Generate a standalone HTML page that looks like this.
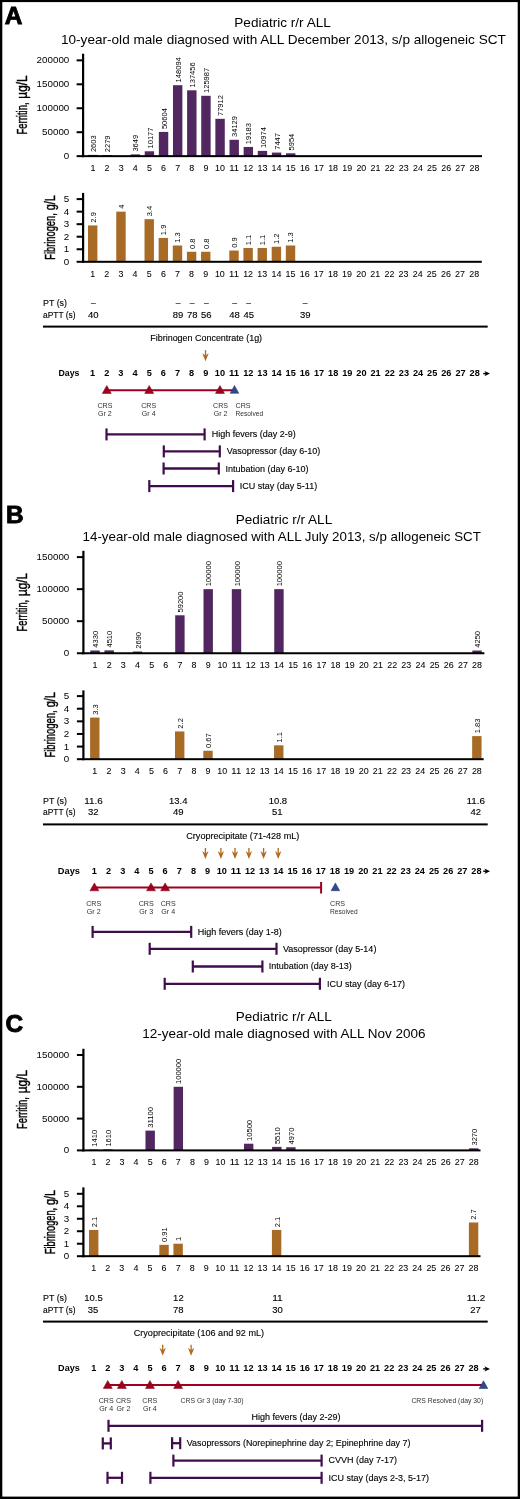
<!DOCTYPE html>
<html><head><meta charset="utf-8"><title>Figure</title>
<style>
html,body{margin:0;padding:0;background:#fff;}
body{width:520px;height:1499px;overflow:hidden;}
svg{display:block;will-change:transform;}
text{font-family:"Liberation Sans", sans-serif;}
</style></head>
<body>
<svg width="520" height="1499" viewBox="0 0 520 1499">
<rect x="0" y="0" width="520" height="1499" fill="#fff"/>
<rect x="0.00" y="0.00" width="520.00" height="2.10" fill="#000"/>
<rect x="0.00" y="0.00" width="2.30" height="1499.00" fill="#000"/>
<rect x="517.70" y="0.00" width="2.30" height="1499.00" fill="#000"/>
<rect x="0.00" y="1496.60" width="520.00" height="2.40" fill="#000"/>
<text x="4.80" y="24.40" font-size="24.4" font-weight="bold" fill="#000" stroke="#000" stroke-width="0.9">A</text>
<text x="234.30" y="26.90" font-size="12.1" fill="#000" textLength="96.50" lengthAdjust="spacingAndGlyphs">Pediatric r/r ALL</text>
<text x="61.00" y="43.80" font-size="12.1" fill="#000" textLength="444.80" lengthAdjust="spacingAndGlyphs">10-year-old male diagnosed with ALL December 2013, s/p allogeneic SCT</text>
<rect x="76.60" y="155.15" width="6.50" height="2.00" fill="#000"/>
<text x="69.30" y="159.23" font-size="8.6" text-anchor="end" fill="#000" textLength="5.45" lengthAdjust="spacingAndGlyphs">0</text>
<rect x="76.60" y="131.20" width="6.50" height="2.00" fill="#000"/>
<text x="69.30" y="135.28" font-size="8.6" text-anchor="end" fill="#000" textLength="27.25" lengthAdjust="spacingAndGlyphs">50000</text>
<rect x="76.60" y="107.25" width="6.50" height="2.00" fill="#000"/>
<text x="69.30" y="111.33" font-size="8.6" text-anchor="end" fill="#000" textLength="32.70" lengthAdjust="spacingAndGlyphs">100000</text>
<rect x="76.60" y="83.30" width="6.50" height="2.00" fill="#000"/>
<text x="69.30" y="87.38" font-size="8.6" text-anchor="end" fill="#000" textLength="32.70" lengthAdjust="spacingAndGlyphs">150000</text>
<rect x="76.60" y="59.35" width="6.50" height="2.00" fill="#000"/>
<text x="69.30" y="63.43" font-size="8.6" text-anchor="end" fill="#000" textLength="32.70" lengthAdjust="spacingAndGlyphs">200000</text>
<rect x="88.20" y="154.90" width="9.40" height="1.25" fill="#522660"/>
<text transform="translate(95.98,152.10) rotate(-90)" font-size="7.2" fill="#000" textLength="16.80" lengthAdjust="spacingAndGlyphs">2603</text>
<rect x="102.33" y="155.06" width="9.40" height="1.09" fill="#522660"/>
<text transform="translate(110.11,152.26) rotate(-90)" font-size="7.2" fill="#000" textLength="16.80" lengthAdjust="spacingAndGlyphs">2279</text>
<rect x="130.59" y="154.40" width="9.40" height="1.75" fill="#522660"/>
<text transform="translate(138.37,151.60) rotate(-90)" font-size="7.2" fill="#000" textLength="16.80" lengthAdjust="spacingAndGlyphs">3649</text>
<rect x="144.72" y="151.28" width="9.40" height="4.87" fill="#522660"/>
<text transform="translate(152.50,148.48) rotate(-90)" font-size="7.2" fill="#000" textLength="21.00" lengthAdjust="spacingAndGlyphs">10177</text>
<rect x="158.85" y="131.91" width="9.40" height="24.24" fill="#522660"/>
<text transform="translate(166.63,129.11) rotate(-90)" font-size="7.2" fill="#000" textLength="21.00" lengthAdjust="spacingAndGlyphs">50604</text>
<rect x="172.98" y="85.21" width="9.40" height="70.94" fill="#522660"/>
<text transform="translate(180.76,82.41) rotate(-90)" font-size="7.2" fill="#000" textLength="25.20" lengthAdjust="spacingAndGlyphs">148094</text>
<rect x="187.11" y="90.31" width="9.40" height="65.84" fill="#522660"/>
<text transform="translate(194.89,87.51) rotate(-90)" font-size="7.2" fill="#000" textLength="25.20" lengthAdjust="spacingAndGlyphs">137456</text>
<rect x="201.24" y="95.80" width="9.40" height="60.35" fill="#522660"/>
<text transform="translate(209.02,93.00) rotate(-90)" font-size="7.2" fill="#000" textLength="25.20" lengthAdjust="spacingAndGlyphs">125987</text>
<rect x="215.37" y="118.83" width="9.40" height="37.32" fill="#522660"/>
<text transform="translate(223.15,116.03) rotate(-90)" font-size="7.2" fill="#000" textLength="21.00" lengthAdjust="spacingAndGlyphs">77912</text>
<rect x="229.50" y="139.80" width="9.40" height="16.35" fill="#522660"/>
<text transform="translate(237.28,137.00) rotate(-90)" font-size="7.2" fill="#000" textLength="21.00" lengthAdjust="spacingAndGlyphs">34129</text>
<rect x="243.63" y="146.96" width="9.40" height="9.19" fill="#522660"/>
<text transform="translate(251.41,144.16) rotate(-90)" font-size="7.2" fill="#000" textLength="21.00" lengthAdjust="spacingAndGlyphs">19183</text>
<rect x="257.76" y="150.89" width="9.40" height="5.26" fill="#522660"/>
<text transform="translate(265.54,148.09) rotate(-90)" font-size="7.2" fill="#000" textLength="21.00" lengthAdjust="spacingAndGlyphs">10974</text>
<rect x="271.89" y="152.58" width="9.40" height="3.57" fill="#522660"/>
<text transform="translate(279.67,149.78) rotate(-90)" font-size="7.2" fill="#000" textLength="16.80" lengthAdjust="spacingAndGlyphs">7447</text>
<rect x="286.02" y="153.30" width="9.40" height="2.85" fill="#522660"/>
<text transform="translate(293.80,150.50) rotate(-90)" font-size="7.2" fill="#000" textLength="16.80" lengthAdjust="spacingAndGlyphs">5954</text>
<rect x="82.00" y="53.75" width="2.20" height="103.40" fill="#000"/>
<rect x="82.00" y="155.15" width="400.00" height="2.00" fill="#000"/>
<text x="92.90" y="170.70" font-size="8.6" text-anchor="middle" fill="#000" textLength="4.95" lengthAdjust="spacingAndGlyphs" stroke="#000" stroke-width="0.05">1</text>
<text x="107.03" y="170.70" font-size="8.6" text-anchor="middle" fill="#000" textLength="4.95" lengthAdjust="spacingAndGlyphs" stroke="#000" stroke-width="0.05">2</text>
<text x="121.16" y="170.70" font-size="8.6" text-anchor="middle" fill="#000" textLength="4.95" lengthAdjust="spacingAndGlyphs" stroke="#000" stroke-width="0.05">3</text>
<text x="135.29" y="170.70" font-size="8.6" text-anchor="middle" fill="#000" textLength="4.95" lengthAdjust="spacingAndGlyphs" stroke="#000" stroke-width="0.05">4</text>
<text x="149.42" y="170.70" font-size="8.6" text-anchor="middle" fill="#000" textLength="4.95" lengthAdjust="spacingAndGlyphs" stroke="#000" stroke-width="0.05">5</text>
<text x="163.55" y="170.70" font-size="8.6" text-anchor="middle" fill="#000" textLength="4.95" lengthAdjust="spacingAndGlyphs" stroke="#000" stroke-width="0.05">6</text>
<text x="177.68" y="170.70" font-size="8.6" text-anchor="middle" fill="#000" textLength="4.95" lengthAdjust="spacingAndGlyphs" stroke="#000" stroke-width="0.05">7</text>
<text x="191.81" y="170.70" font-size="8.6" text-anchor="middle" fill="#000" textLength="4.95" lengthAdjust="spacingAndGlyphs" stroke="#000" stroke-width="0.05">8</text>
<text x="205.94" y="170.70" font-size="8.6" text-anchor="middle" fill="#000" textLength="4.95" lengthAdjust="spacingAndGlyphs" stroke="#000" stroke-width="0.05">9</text>
<text x="220.07" y="170.70" font-size="8.6" text-anchor="middle" fill="#000" textLength="9.90" lengthAdjust="spacingAndGlyphs" stroke="#000" stroke-width="0.05">10</text>
<text x="234.20" y="170.70" font-size="8.6" text-anchor="middle" fill="#000" textLength="9.90" lengthAdjust="spacingAndGlyphs" stroke="#000" stroke-width="0.05">11</text>
<text x="248.33" y="170.70" font-size="8.6" text-anchor="middle" fill="#000" textLength="9.90" lengthAdjust="spacingAndGlyphs" stroke="#000" stroke-width="0.05">12</text>
<text x="262.46" y="170.70" font-size="8.6" text-anchor="middle" fill="#000" textLength="9.90" lengthAdjust="spacingAndGlyphs" stroke="#000" stroke-width="0.05">13</text>
<text x="276.59" y="170.70" font-size="8.6" text-anchor="middle" fill="#000" textLength="9.90" lengthAdjust="spacingAndGlyphs" stroke="#000" stroke-width="0.05">14</text>
<text x="290.72" y="170.70" font-size="8.6" text-anchor="middle" fill="#000" textLength="9.90" lengthAdjust="spacingAndGlyphs" stroke="#000" stroke-width="0.05">15</text>
<text x="304.85" y="170.70" font-size="8.6" text-anchor="middle" fill="#000" textLength="9.90" lengthAdjust="spacingAndGlyphs" stroke="#000" stroke-width="0.05">16</text>
<text x="318.98" y="170.70" font-size="8.6" text-anchor="middle" fill="#000" textLength="9.90" lengthAdjust="spacingAndGlyphs" stroke="#000" stroke-width="0.05">17</text>
<text x="333.11" y="170.70" font-size="8.6" text-anchor="middle" fill="#000" textLength="9.90" lengthAdjust="spacingAndGlyphs" stroke="#000" stroke-width="0.05">18</text>
<text x="347.24" y="170.70" font-size="8.6" text-anchor="middle" fill="#000" textLength="9.90" lengthAdjust="spacingAndGlyphs" stroke="#000" stroke-width="0.05">19</text>
<text x="361.37" y="170.70" font-size="8.6" text-anchor="middle" fill="#000" textLength="9.90" lengthAdjust="spacingAndGlyphs" stroke="#000" stroke-width="0.05">20</text>
<text x="375.50" y="170.70" font-size="8.6" text-anchor="middle" fill="#000" textLength="9.90" lengthAdjust="spacingAndGlyphs" stroke="#000" stroke-width="0.05">21</text>
<text x="389.63" y="170.70" font-size="8.6" text-anchor="middle" fill="#000" textLength="9.90" lengthAdjust="spacingAndGlyphs" stroke="#000" stroke-width="0.05">22</text>
<text x="403.76" y="170.70" font-size="8.6" text-anchor="middle" fill="#000" textLength="9.90" lengthAdjust="spacingAndGlyphs" stroke="#000" stroke-width="0.05">23</text>
<text x="417.89" y="170.70" font-size="8.6" text-anchor="middle" fill="#000" textLength="9.90" lengthAdjust="spacingAndGlyphs" stroke="#000" stroke-width="0.05">24</text>
<text x="432.02" y="170.70" font-size="8.6" text-anchor="middle" fill="#000" textLength="9.90" lengthAdjust="spacingAndGlyphs" stroke="#000" stroke-width="0.05">25</text>
<text x="446.15" y="170.70" font-size="8.6" text-anchor="middle" fill="#000" textLength="9.90" lengthAdjust="spacingAndGlyphs" stroke="#000" stroke-width="0.05">26</text>
<text x="460.28" y="170.70" font-size="8.6" text-anchor="middle" fill="#000" textLength="9.90" lengthAdjust="spacingAndGlyphs" stroke="#000" stroke-width="0.05">27</text>
<text x="474.41" y="170.70" font-size="8.6" text-anchor="middle" fill="#000" textLength="9.90" lengthAdjust="spacingAndGlyphs" stroke="#000" stroke-width="0.05">28</text>
<text transform="translate(27.30,134.50) rotate(-90)" font-size="14.2" fill="#000" textLength="32.05" lengthAdjust="spacingAndGlyphs" stroke="#000" stroke-width="0.42">Ferritin,</text>
<text transform="translate(27.30,98.63) rotate(-90)" font-size="14.2" fill="#000" textLength="23.23" lengthAdjust="spacingAndGlyphs" stroke="#000" stroke-width="0.42">µg/L</text>
<rect x="76.60" y="260.80" width="6.50" height="2.00" fill="#000"/>
<text x="69.30" y="264.88" font-size="8.6" text-anchor="end" fill="#000" textLength="5.45" lengthAdjust="spacingAndGlyphs">0</text>
<rect x="76.60" y="248.26" width="6.50" height="2.00" fill="#000"/>
<text x="69.30" y="252.34" font-size="8.6" text-anchor="end" fill="#000" textLength="5.45" lengthAdjust="spacingAndGlyphs">1</text>
<rect x="76.60" y="235.72" width="6.50" height="2.00" fill="#000"/>
<text x="69.30" y="239.80" font-size="8.6" text-anchor="end" fill="#000" textLength="5.45" lengthAdjust="spacingAndGlyphs">2</text>
<rect x="76.60" y="223.18" width="6.50" height="2.00" fill="#000"/>
<text x="69.30" y="227.26" font-size="8.6" text-anchor="end" fill="#000" textLength="5.45" lengthAdjust="spacingAndGlyphs">3</text>
<rect x="76.60" y="210.64" width="6.50" height="2.00" fill="#000"/>
<text x="69.30" y="214.72" font-size="8.6" text-anchor="end" fill="#000" textLength="5.45" lengthAdjust="spacingAndGlyphs">4</text>
<rect x="76.60" y="198.10" width="6.50" height="2.00" fill="#000"/>
<text x="69.30" y="202.18" font-size="8.6" text-anchor="end" fill="#000" textLength="5.45" lengthAdjust="spacingAndGlyphs">5</text>
<rect x="88.00" y="225.43" width="9.40" height="36.37" fill="#a76b26"/>
<text transform="translate(95.60,222.63) rotate(-90)" font-size="6.7" fill="#000" textLength="10.50" lengthAdjust="spacingAndGlyphs">2.9</text>
<rect x="116.26" y="211.64" width="9.40" height="50.16" fill="#a76b26"/>
<text transform="translate(123.86,208.84) rotate(-90)" font-size="6.7" fill="#000" textLength="4.20" lengthAdjust="spacingAndGlyphs">4</text>
<rect x="144.52" y="219.16" width="9.40" height="42.64" fill="#a76b26"/>
<text transform="translate(152.12,216.36) rotate(-90)" font-size="6.7" fill="#000" textLength="10.50" lengthAdjust="spacingAndGlyphs">3.4</text>
<rect x="158.65" y="237.97" width="9.40" height="23.83" fill="#a76b26"/>
<text transform="translate(166.25,235.17) rotate(-90)" font-size="6.7" fill="#000" textLength="10.50" lengthAdjust="spacingAndGlyphs">1.9</text>
<rect x="172.78" y="245.50" width="9.40" height="16.30" fill="#a76b26"/>
<text transform="translate(180.38,242.70) rotate(-90)" font-size="6.7" fill="#000" textLength="10.50" lengthAdjust="spacingAndGlyphs">1.3</text>
<rect x="186.91" y="251.77" width="9.40" height="10.03" fill="#a76b26"/>
<text transform="translate(194.51,248.97) rotate(-90)" font-size="6.7" fill="#000" textLength="10.50" lengthAdjust="spacingAndGlyphs">0.8</text>
<rect x="201.04" y="251.77" width="9.40" height="10.03" fill="#a76b26"/>
<text transform="translate(208.64,248.97) rotate(-90)" font-size="6.7" fill="#000" textLength="10.50" lengthAdjust="spacingAndGlyphs">0.8</text>
<rect x="229.30" y="250.51" width="9.40" height="11.29" fill="#a76b26"/>
<text transform="translate(236.90,247.71) rotate(-90)" font-size="6.7" fill="#000" textLength="10.50" lengthAdjust="spacingAndGlyphs">0.9</text>
<rect x="243.43" y="248.01" width="9.40" height="13.79" fill="#a76b26"/>
<text transform="translate(251.03,245.21) rotate(-90)" font-size="6.7" fill="#000" textLength="10.50" lengthAdjust="spacingAndGlyphs">1.1</text>
<rect x="257.56" y="248.01" width="9.40" height="13.79" fill="#a76b26"/>
<text transform="translate(265.16,245.21) rotate(-90)" font-size="6.7" fill="#000" textLength="10.50" lengthAdjust="spacingAndGlyphs">1.1</text>
<rect x="271.69" y="246.75" width="9.40" height="15.05" fill="#a76b26"/>
<text transform="translate(279.29,243.95) rotate(-90)" font-size="6.7" fill="#000" textLength="10.50" lengthAdjust="spacingAndGlyphs">1.2</text>
<rect x="285.82" y="245.50" width="9.40" height="16.30" fill="#a76b26"/>
<text transform="translate(293.42,242.70) rotate(-90)" font-size="6.7" fill="#000" textLength="10.50" lengthAdjust="spacingAndGlyphs">1.3</text>
<rect x="82.00" y="192.90" width="2.20" height="69.90" fill="#000"/>
<rect x="82.00" y="260.80" width="399.80" height="2.00" fill="#000"/>
<text x="92.70" y="276.70" font-size="8.6" text-anchor="middle" fill="#000" textLength="4.95" lengthAdjust="spacingAndGlyphs" stroke="#000" stroke-width="0.05">1</text>
<text x="106.83" y="276.70" font-size="8.6" text-anchor="middle" fill="#000" textLength="4.95" lengthAdjust="spacingAndGlyphs" stroke="#000" stroke-width="0.05">2</text>
<text x="120.96" y="276.70" font-size="8.6" text-anchor="middle" fill="#000" textLength="4.95" lengthAdjust="spacingAndGlyphs" stroke="#000" stroke-width="0.05">3</text>
<text x="135.09" y="276.70" font-size="8.6" text-anchor="middle" fill="#000" textLength="4.95" lengthAdjust="spacingAndGlyphs" stroke="#000" stroke-width="0.05">4</text>
<text x="149.22" y="276.70" font-size="8.6" text-anchor="middle" fill="#000" textLength="4.95" lengthAdjust="spacingAndGlyphs" stroke="#000" stroke-width="0.05">5</text>
<text x="163.35" y="276.70" font-size="8.6" text-anchor="middle" fill="#000" textLength="4.95" lengthAdjust="spacingAndGlyphs" stroke="#000" stroke-width="0.05">6</text>
<text x="177.48" y="276.70" font-size="8.6" text-anchor="middle" fill="#000" textLength="4.95" lengthAdjust="spacingAndGlyphs" stroke="#000" stroke-width="0.05">7</text>
<text x="191.61" y="276.70" font-size="8.6" text-anchor="middle" fill="#000" textLength="4.95" lengthAdjust="spacingAndGlyphs" stroke="#000" stroke-width="0.05">8</text>
<text x="205.74" y="276.70" font-size="8.6" text-anchor="middle" fill="#000" textLength="4.95" lengthAdjust="spacingAndGlyphs" stroke="#000" stroke-width="0.05">9</text>
<text x="219.87" y="276.70" font-size="8.6" text-anchor="middle" fill="#000" textLength="9.90" lengthAdjust="spacingAndGlyphs" stroke="#000" stroke-width="0.05">10</text>
<text x="234.00" y="276.70" font-size="8.6" text-anchor="middle" fill="#000" textLength="9.90" lengthAdjust="spacingAndGlyphs" stroke="#000" stroke-width="0.05">11</text>
<text x="248.13" y="276.70" font-size="8.6" text-anchor="middle" fill="#000" textLength="9.90" lengthAdjust="spacingAndGlyphs" stroke="#000" stroke-width="0.05">12</text>
<text x="262.26" y="276.70" font-size="8.6" text-anchor="middle" fill="#000" textLength="9.90" lengthAdjust="spacingAndGlyphs" stroke="#000" stroke-width="0.05">13</text>
<text x="276.39" y="276.70" font-size="8.6" text-anchor="middle" fill="#000" textLength="9.90" lengthAdjust="spacingAndGlyphs" stroke="#000" stroke-width="0.05">14</text>
<text x="290.52" y="276.70" font-size="8.6" text-anchor="middle" fill="#000" textLength="9.90" lengthAdjust="spacingAndGlyphs" stroke="#000" stroke-width="0.05">15</text>
<text x="304.65" y="276.70" font-size="8.6" text-anchor="middle" fill="#000" textLength="9.90" lengthAdjust="spacingAndGlyphs" stroke="#000" stroke-width="0.05">16</text>
<text x="318.78" y="276.70" font-size="8.6" text-anchor="middle" fill="#000" textLength="9.90" lengthAdjust="spacingAndGlyphs" stroke="#000" stroke-width="0.05">17</text>
<text x="332.91" y="276.70" font-size="8.6" text-anchor="middle" fill="#000" textLength="9.90" lengthAdjust="spacingAndGlyphs" stroke="#000" stroke-width="0.05">18</text>
<text x="347.04" y="276.70" font-size="8.6" text-anchor="middle" fill="#000" textLength="9.90" lengthAdjust="spacingAndGlyphs" stroke="#000" stroke-width="0.05">19</text>
<text x="361.17" y="276.70" font-size="8.6" text-anchor="middle" fill="#000" textLength="9.90" lengthAdjust="spacingAndGlyphs" stroke="#000" stroke-width="0.05">20</text>
<text x="375.30" y="276.70" font-size="8.6" text-anchor="middle" fill="#000" textLength="9.90" lengthAdjust="spacingAndGlyphs" stroke="#000" stroke-width="0.05">21</text>
<text x="389.43" y="276.70" font-size="8.6" text-anchor="middle" fill="#000" textLength="9.90" lengthAdjust="spacingAndGlyphs" stroke="#000" stroke-width="0.05">22</text>
<text x="403.56" y="276.70" font-size="8.6" text-anchor="middle" fill="#000" textLength="9.90" lengthAdjust="spacingAndGlyphs" stroke="#000" stroke-width="0.05">23</text>
<text x="417.69" y="276.70" font-size="8.6" text-anchor="middle" fill="#000" textLength="9.90" lengthAdjust="spacingAndGlyphs" stroke="#000" stroke-width="0.05">24</text>
<text x="431.82" y="276.70" font-size="8.6" text-anchor="middle" fill="#000" textLength="9.90" lengthAdjust="spacingAndGlyphs" stroke="#000" stroke-width="0.05">25</text>
<text x="445.95" y="276.70" font-size="8.6" text-anchor="middle" fill="#000" textLength="9.90" lengthAdjust="spacingAndGlyphs" stroke="#000" stroke-width="0.05">26</text>
<text x="460.08" y="276.70" font-size="8.6" text-anchor="middle" fill="#000" textLength="9.90" lengthAdjust="spacingAndGlyphs" stroke="#000" stroke-width="0.05">27</text>
<text x="474.21" y="276.70" font-size="8.6" text-anchor="middle" fill="#000" textLength="9.90" lengthAdjust="spacingAndGlyphs" stroke="#000" stroke-width="0.05">28</text>
<text transform="translate(54.70,259.80) rotate(-90)" font-size="14.2" fill="#000" textLength="46.62" lengthAdjust="spacingAndGlyphs" stroke="#000" stroke-width="0.42">Fibrinogen,</text>
<text transform="translate(54.70,210.31) rotate(-90)" font-size="14.2" fill="#000" textLength="15.11" lengthAdjust="spacingAndGlyphs" stroke="#000" stroke-width="0.42">g/L</text>
<text x="43.00" y="306.25" font-size="8.6" fill="#000" textLength="24.00" lengthAdjust="spacingAndGlyphs" stroke="#000" stroke-width="0.12">PT (s)</text>
<text x="43.00" y="317.50" font-size="8.6" fill="#000" textLength="32.60" lengthAdjust="spacingAndGlyphs" stroke="#000" stroke-width="0.12">aPTT (s)</text>
<text x="93.30" y="306.25" font-size="8.6" text-anchor="middle" fill="#000" stroke="#000" stroke-width="0.12">–</text>
<text x="178.08" y="306.25" font-size="8.6" text-anchor="middle" fill="#000" stroke="#000" stroke-width="0.12">–</text>
<text x="192.21" y="306.25" font-size="8.6" text-anchor="middle" fill="#000" stroke="#000" stroke-width="0.12">–</text>
<text x="206.34" y="306.25" font-size="8.6" text-anchor="middle" fill="#000" stroke="#000" stroke-width="0.12">–</text>
<text x="234.60" y="306.25" font-size="8.6" text-anchor="middle" fill="#000" stroke="#000" stroke-width="0.12">–</text>
<text x="248.73" y="306.25" font-size="8.6" text-anchor="middle" fill="#000" stroke="#000" stroke-width="0.12">–</text>
<text x="305.25" y="306.25" font-size="8.6" text-anchor="middle" fill="#000" stroke="#000" stroke-width="0.12">–</text>
<text x="93.30" y="317.50" font-size="8.6" text-anchor="middle" fill="#000" textLength="10.56" lengthAdjust="spacingAndGlyphs" stroke="#000" stroke-width="0.12">40</text>
<text x="178.08" y="317.50" font-size="8.6" text-anchor="middle" fill="#000" textLength="10.56" lengthAdjust="spacingAndGlyphs" stroke="#000" stroke-width="0.12">89</text>
<text x="192.21" y="317.50" font-size="8.6" text-anchor="middle" fill="#000" textLength="10.56" lengthAdjust="spacingAndGlyphs" stroke="#000" stroke-width="0.12">78</text>
<text x="206.34" y="317.50" font-size="8.6" text-anchor="middle" fill="#000" textLength="10.56" lengthAdjust="spacingAndGlyphs" stroke="#000" stroke-width="0.12">56</text>
<text x="234.60" y="317.50" font-size="8.6" text-anchor="middle" fill="#000" textLength="10.56" lengthAdjust="spacingAndGlyphs" stroke="#000" stroke-width="0.12">48</text>
<text x="248.73" y="317.50" font-size="8.6" text-anchor="middle" fill="#000" textLength="10.56" lengthAdjust="spacingAndGlyphs" stroke="#000" stroke-width="0.12">45</text>
<text x="305.25" y="317.50" font-size="8.6" text-anchor="middle" fill="#000" textLength="10.56" lengthAdjust="spacingAndGlyphs" stroke="#000" stroke-width="0.12">39</text>
<rect x="43.00" y="325.60" width="444.70" height="2.00" fill="#000"/>
<text x="150.30" y="341.20" font-size="8.6" fill="#000" textLength="111.80" lengthAdjust="spacingAndGlyphs" stroke="#000" stroke-width="0.12">Fibrinogen Concentrate (1g)</text>
<line x1="205.50" y1="350.10" x2="205.50" y2="355.70" stroke="#b0681c" stroke-width="1.3"/>
<path d="M202.30,353.20 L205.50,355.60 L208.70,353.20 L205.50,361.20 Z" fill="#b0681c"/>
<text x="58.50" y="376.20" font-size="8.9" font-weight="bold" fill="#000" textLength="21.00" lengthAdjust="spacingAndGlyphs">Days</text>
<text x="92.60" y="376.20" font-size="8.9" text-anchor="middle" font-weight="bold" fill="#000" textLength="5.10" lengthAdjust="spacingAndGlyphs">1</text>
<text x="106.75" y="376.20" font-size="8.9" text-anchor="middle" font-weight="bold" fill="#000" textLength="5.10" lengthAdjust="spacingAndGlyphs">2</text>
<text x="120.90" y="376.20" font-size="8.9" text-anchor="middle" font-weight="bold" fill="#000" textLength="5.10" lengthAdjust="spacingAndGlyphs">3</text>
<text x="135.05" y="376.20" font-size="8.9" text-anchor="middle" font-weight="bold" fill="#000" textLength="5.10" lengthAdjust="spacingAndGlyphs">4</text>
<text x="149.20" y="376.20" font-size="8.9" text-anchor="middle" font-weight="bold" fill="#000" textLength="5.10" lengthAdjust="spacingAndGlyphs">5</text>
<text x="163.35" y="376.20" font-size="8.9" text-anchor="middle" font-weight="bold" fill="#000" textLength="5.10" lengthAdjust="spacingAndGlyphs">6</text>
<text x="177.50" y="376.20" font-size="8.9" text-anchor="middle" font-weight="bold" fill="#000" textLength="5.10" lengthAdjust="spacingAndGlyphs">7</text>
<text x="191.65" y="376.20" font-size="8.9" text-anchor="middle" font-weight="bold" fill="#000" textLength="5.10" lengthAdjust="spacingAndGlyphs">8</text>
<text x="205.80" y="376.20" font-size="8.9" text-anchor="middle" font-weight="bold" fill="#000" textLength="5.10" lengthAdjust="spacingAndGlyphs">9</text>
<text x="219.95" y="376.20" font-size="8.9" text-anchor="middle" font-weight="bold" fill="#000" textLength="10.20" lengthAdjust="spacingAndGlyphs">10</text>
<text x="234.10" y="376.20" font-size="8.9" text-anchor="middle" font-weight="bold" fill="#000" textLength="10.20" lengthAdjust="spacingAndGlyphs">11</text>
<text x="248.25" y="376.20" font-size="8.9" text-anchor="middle" font-weight="bold" fill="#000" textLength="10.20" lengthAdjust="spacingAndGlyphs">12</text>
<text x="262.40" y="376.20" font-size="8.9" text-anchor="middle" font-weight="bold" fill="#000" textLength="10.20" lengthAdjust="spacingAndGlyphs">13</text>
<text x="276.55" y="376.20" font-size="8.9" text-anchor="middle" font-weight="bold" fill="#000" textLength="10.20" lengthAdjust="spacingAndGlyphs">14</text>
<text x="290.70" y="376.20" font-size="8.9" text-anchor="middle" font-weight="bold" fill="#000" textLength="10.20" lengthAdjust="spacingAndGlyphs">15</text>
<text x="304.85" y="376.20" font-size="8.9" text-anchor="middle" font-weight="bold" fill="#000" textLength="10.20" lengthAdjust="spacingAndGlyphs">16</text>
<text x="319.00" y="376.20" font-size="8.9" text-anchor="middle" font-weight="bold" fill="#000" textLength="10.20" lengthAdjust="spacingAndGlyphs">17</text>
<text x="333.15" y="376.20" font-size="8.9" text-anchor="middle" font-weight="bold" fill="#000" textLength="10.20" lengthAdjust="spacingAndGlyphs">18</text>
<text x="347.30" y="376.20" font-size="8.9" text-anchor="middle" font-weight="bold" fill="#000" textLength="10.20" lengthAdjust="spacingAndGlyphs">19</text>
<text x="361.45" y="376.20" font-size="8.9" text-anchor="middle" font-weight="bold" fill="#000" textLength="10.20" lengthAdjust="spacingAndGlyphs">20</text>
<text x="375.60" y="376.20" font-size="8.9" text-anchor="middle" font-weight="bold" fill="#000" textLength="10.20" lengthAdjust="spacingAndGlyphs">21</text>
<text x="389.75" y="376.20" font-size="8.9" text-anchor="middle" font-weight="bold" fill="#000" textLength="10.20" lengthAdjust="spacingAndGlyphs">22</text>
<text x="403.90" y="376.20" font-size="8.9" text-anchor="middle" font-weight="bold" fill="#000" textLength="10.20" lengthAdjust="spacingAndGlyphs">23</text>
<text x="418.05" y="376.20" font-size="8.9" text-anchor="middle" font-weight="bold" fill="#000" textLength="10.20" lengthAdjust="spacingAndGlyphs">24</text>
<text x="432.20" y="376.20" font-size="8.9" text-anchor="middle" font-weight="bold" fill="#000" textLength="10.20" lengthAdjust="spacingAndGlyphs">25</text>
<text x="446.35" y="376.20" font-size="8.9" text-anchor="middle" font-weight="bold" fill="#000" textLength="10.20" lengthAdjust="spacingAndGlyphs">26</text>
<text x="460.50" y="376.20" font-size="8.9" text-anchor="middle" font-weight="bold" fill="#000" textLength="10.20" lengthAdjust="spacingAndGlyphs">27</text>
<text x="474.65" y="376.20" font-size="8.9" text-anchor="middle" font-weight="bold" fill="#000" textLength="10.20" lengthAdjust="spacingAndGlyphs">28</text>
<line x1="483.2" y1="373.60" x2="486.5" y2="373.60" stroke="#000" stroke-width="1.4"/>
<path d="M484.4,370.90 L490.0,373.60 L484.4,376.30 L485.9,373.60 Z" fill="#000"/>
<line x1="106.75" y1="390.3" x2="234.10" y2="390.3" stroke="#a0001e" stroke-width="2"/>
<path d="M106.75,385.50 L111.25,393.40 L102.25,393.40 Z" fill="#a0001e" stroke="#7a0016" stroke-width="0.5"/>
<path d="M149.20,385.50 L153.70,393.40 L144.70,393.40 Z" fill="#a0001e" stroke="#7a0016" stroke-width="0.5"/>
<path d="M219.95,385.50 L224.45,393.40 L215.45,393.40 Z" fill="#a0001e" stroke="#7a0016" stroke-width="0.5"/>
<path d="M234.50,385.40 L238.80,393.30 L230.20,393.30 Z" fill="#2d4a8c" stroke="#13306c" stroke-width="0.5"/>
<text x="104.90" y="407.70" font-size="7.1" text-anchor="middle" fill="#333">CRS</text>
<text x="104.90" y="416.20" font-size="7.1" text-anchor="middle" fill="#333">Gr 2</text>
<text x="148.70" y="407.70" font-size="7.1" text-anchor="middle" fill="#333">CRS</text>
<text x="148.70" y="416.20" font-size="7.1" text-anchor="middle" fill="#333">Gr 4</text>
<text x="220.60" y="407.70" font-size="7.1" text-anchor="middle" fill="#333">CRS</text>
<text x="220.60" y="416.20" font-size="7.1" text-anchor="middle" fill="#333">Gr 2</text>
<text x="235.60" y="407.70" font-size="7.1" fill="#333">CRS</text>
<text x="235.60" y="416.20" font-size="7.1" fill="#333" textLength="27.60" lengthAdjust="spacingAndGlyphs">Resolved</text>
<line x1="106.50" y1="434.40" x2="204.60" y2="434.40" stroke="#3f0d4c" stroke-width="2.3"/>
<line x1="106.50" y1="428.40" x2="106.50" y2="440.40" stroke="#3f0d4c" stroke-width="2.2"/>
<line x1="204.60" y1="428.40" x2="204.60" y2="440.40" stroke="#3f0d4c" stroke-width="2.2"/>
<text x="211.80" y="437.40" font-size="9.0" fill="#000" stroke="#000" stroke-width="0.12">High fevers (day 2-9)</text>
<line x1="163.80" y1="451.40" x2="219.80" y2="451.40" stroke="#3f0d4c" stroke-width="2.3"/>
<line x1="163.80" y1="445.40" x2="163.80" y2="457.40" stroke="#3f0d4c" stroke-width="2.2"/>
<line x1="219.80" y1="445.40" x2="219.80" y2="457.40" stroke="#3f0d4c" stroke-width="2.2"/>
<text x="226.80" y="454.40" font-size="9.0" fill="#000" stroke="#000" stroke-width="0.12">Vasopressor (day 6-10)</text>
<line x1="163.60" y1="468.50" x2="218.80" y2="468.50" stroke="#3f0d4c" stroke-width="2.3"/>
<line x1="163.60" y1="462.50" x2="163.60" y2="474.50" stroke="#3f0d4c" stroke-width="2.2"/>
<line x1="218.80" y1="462.50" x2="218.80" y2="474.50" stroke="#3f0d4c" stroke-width="2.2"/>
<text x="225.50" y="471.50" font-size="9.0" fill="#000" stroke="#000" stroke-width="0.12">Intubation (day 6-10)</text>
<line x1="149.30" y1="486.10" x2="233.10" y2="486.10" stroke="#3f0d4c" stroke-width="2.3"/>
<line x1="149.30" y1="480.10" x2="149.30" y2="492.10" stroke="#3f0d4c" stroke-width="2.2"/>
<line x1="233.10" y1="480.10" x2="233.10" y2="492.10" stroke="#3f0d4c" stroke-width="2.2"/>
<text x="239.80" y="489.00" font-size="9.0" fill="#000" stroke="#000" stroke-width="0.12">ICU stay (day 5-11)</text>
<text x="5.90" y="523.30" font-size="24.4" font-weight="bold" fill="#000" stroke="#000" stroke-width="0.9">B</text>
<text x="235.70" y="523.90" font-size="12.1" fill="#000" textLength="96.50" lengthAdjust="spacingAndGlyphs">Pediatric r/r ALL</text>
<text x="82.60" y="540.80" font-size="12.1" fill="#000" textLength="398.20" lengthAdjust="spacingAndGlyphs">14-year-old male diagnosed with ALL July 2013, s/p allogeneic SCT</text>
<rect x="76.90" y="652.25" width="6.50" height="2.00" fill="#000"/>
<text x="69.30" y="656.33" font-size="8.6" text-anchor="end" fill="#000" textLength="5.45" lengthAdjust="spacingAndGlyphs">0</text>
<rect x="76.90" y="620.20" width="6.50" height="2.00" fill="#000"/>
<text x="69.30" y="624.28" font-size="8.6" text-anchor="end" fill="#000" textLength="27.25" lengthAdjust="spacingAndGlyphs">50000</text>
<rect x="76.90" y="588.15" width="6.50" height="2.00" fill="#000"/>
<text x="69.30" y="592.23" font-size="8.6" text-anchor="end" fill="#000" textLength="32.70" lengthAdjust="spacingAndGlyphs">100000</text>
<rect x="76.90" y="556.10" width="6.50" height="2.00" fill="#000"/>
<text x="69.30" y="560.18" font-size="8.6" text-anchor="end" fill="#000" textLength="32.70" lengthAdjust="spacingAndGlyphs">150000</text>
<rect x="90.30" y="650.47" width="9.40" height="2.78" fill="#522660"/>
<text transform="translate(98.08,647.67) rotate(-90)" font-size="7.2" fill="#000" textLength="16.80" lengthAdjust="spacingAndGlyphs">4330</text>
<rect x="104.45" y="650.36" width="9.40" height="2.89" fill="#522660"/>
<text transform="translate(112.23,647.56) rotate(-90)" font-size="7.2" fill="#000" textLength="16.80" lengthAdjust="spacingAndGlyphs">4510</text>
<rect x="132.75" y="651.53" width="9.40" height="1.72" fill="#522660"/>
<text transform="translate(140.53,648.73) rotate(-90)" font-size="7.2" fill="#000" textLength="16.80" lengthAdjust="spacingAndGlyphs">2690</text>
<rect x="175.20" y="615.30" width="9.40" height="37.95" fill="#522660"/>
<text transform="translate(182.98,612.50) rotate(-90)" font-size="7.2" fill="#000" textLength="21.00" lengthAdjust="spacingAndGlyphs">59200</text>
<rect x="203.50" y="589.15" width="9.40" height="64.10" fill="#522660"/>
<text transform="translate(211.28,586.35) rotate(-90)" font-size="7.2" fill="#000" textLength="25.20" lengthAdjust="spacingAndGlyphs">100000</text>
<rect x="231.80" y="589.15" width="9.40" height="64.10" fill="#522660"/>
<text transform="translate(239.58,586.35) rotate(-90)" font-size="7.2" fill="#000" textLength="25.20" lengthAdjust="spacingAndGlyphs">100000</text>
<rect x="274.25" y="589.15" width="9.40" height="64.10" fill="#522660"/>
<text transform="translate(282.03,586.35) rotate(-90)" font-size="7.2" fill="#000" textLength="25.20" lengthAdjust="spacingAndGlyphs">100000</text>
<rect x="472.35" y="650.53" width="9.40" height="2.72" fill="#522660"/>
<text transform="translate(480.13,647.73) rotate(-90)" font-size="7.2" fill="#000" textLength="16.80" lengthAdjust="spacingAndGlyphs">4250</text>
<rect x="82.30" y="550.80" width="2.20" height="103.45" fill="#000"/>
<rect x="82.30" y="652.25" width="402.10" height="2.00" fill="#000"/>
<text x="95.00" y="667.80" font-size="8.6" text-anchor="middle" fill="#000" textLength="4.95" lengthAdjust="spacingAndGlyphs" stroke="#000" stroke-width="0.05">1</text>
<text x="109.15" y="667.80" font-size="8.6" text-anchor="middle" fill="#000" textLength="4.95" lengthAdjust="spacingAndGlyphs" stroke="#000" stroke-width="0.05">2</text>
<text x="123.30" y="667.80" font-size="8.6" text-anchor="middle" fill="#000" textLength="4.95" lengthAdjust="spacingAndGlyphs" stroke="#000" stroke-width="0.05">3</text>
<text x="137.45" y="667.80" font-size="8.6" text-anchor="middle" fill="#000" textLength="4.95" lengthAdjust="spacingAndGlyphs" stroke="#000" stroke-width="0.05">4</text>
<text x="151.60" y="667.80" font-size="8.6" text-anchor="middle" fill="#000" textLength="4.95" lengthAdjust="spacingAndGlyphs" stroke="#000" stroke-width="0.05">5</text>
<text x="165.75" y="667.80" font-size="8.6" text-anchor="middle" fill="#000" textLength="4.95" lengthAdjust="spacingAndGlyphs" stroke="#000" stroke-width="0.05">6</text>
<text x="179.90" y="667.80" font-size="8.6" text-anchor="middle" fill="#000" textLength="4.95" lengthAdjust="spacingAndGlyphs" stroke="#000" stroke-width="0.05">7</text>
<text x="194.05" y="667.80" font-size="8.6" text-anchor="middle" fill="#000" textLength="4.95" lengthAdjust="spacingAndGlyphs" stroke="#000" stroke-width="0.05">8</text>
<text x="208.20" y="667.80" font-size="8.6" text-anchor="middle" fill="#000" textLength="4.95" lengthAdjust="spacingAndGlyphs" stroke="#000" stroke-width="0.05">9</text>
<text x="222.35" y="667.80" font-size="8.6" text-anchor="middle" fill="#000" textLength="9.90" lengthAdjust="spacingAndGlyphs" stroke="#000" stroke-width="0.05">10</text>
<text x="236.50" y="667.80" font-size="8.6" text-anchor="middle" fill="#000" textLength="9.90" lengthAdjust="spacingAndGlyphs" stroke="#000" stroke-width="0.05">11</text>
<text x="250.65" y="667.80" font-size="8.6" text-anchor="middle" fill="#000" textLength="9.90" lengthAdjust="spacingAndGlyphs" stroke="#000" stroke-width="0.05">12</text>
<text x="264.80" y="667.80" font-size="8.6" text-anchor="middle" fill="#000" textLength="9.90" lengthAdjust="spacingAndGlyphs" stroke="#000" stroke-width="0.05">13</text>
<text x="278.95" y="667.80" font-size="8.6" text-anchor="middle" fill="#000" textLength="9.90" lengthAdjust="spacingAndGlyphs" stroke="#000" stroke-width="0.05">14</text>
<text x="293.10" y="667.80" font-size="8.6" text-anchor="middle" fill="#000" textLength="9.90" lengthAdjust="spacingAndGlyphs" stroke="#000" stroke-width="0.05">15</text>
<text x="307.25" y="667.80" font-size="8.6" text-anchor="middle" fill="#000" textLength="9.90" lengthAdjust="spacingAndGlyphs" stroke="#000" stroke-width="0.05">16</text>
<text x="321.40" y="667.80" font-size="8.6" text-anchor="middle" fill="#000" textLength="9.90" lengthAdjust="spacingAndGlyphs" stroke="#000" stroke-width="0.05">17</text>
<text x="335.55" y="667.80" font-size="8.6" text-anchor="middle" fill="#000" textLength="9.90" lengthAdjust="spacingAndGlyphs" stroke="#000" stroke-width="0.05">18</text>
<text x="349.70" y="667.80" font-size="8.6" text-anchor="middle" fill="#000" textLength="9.90" lengthAdjust="spacingAndGlyphs" stroke="#000" stroke-width="0.05">19</text>
<text x="363.85" y="667.80" font-size="8.6" text-anchor="middle" fill="#000" textLength="9.90" lengthAdjust="spacingAndGlyphs" stroke="#000" stroke-width="0.05">20</text>
<text x="378.00" y="667.80" font-size="8.6" text-anchor="middle" fill="#000" textLength="9.90" lengthAdjust="spacingAndGlyphs" stroke="#000" stroke-width="0.05">21</text>
<text x="392.15" y="667.80" font-size="8.6" text-anchor="middle" fill="#000" textLength="9.90" lengthAdjust="spacingAndGlyphs" stroke="#000" stroke-width="0.05">22</text>
<text x="406.30" y="667.80" font-size="8.6" text-anchor="middle" fill="#000" textLength="9.90" lengthAdjust="spacingAndGlyphs" stroke="#000" stroke-width="0.05">23</text>
<text x="420.45" y="667.80" font-size="8.6" text-anchor="middle" fill="#000" textLength="9.90" lengthAdjust="spacingAndGlyphs" stroke="#000" stroke-width="0.05">24</text>
<text x="434.60" y="667.80" font-size="8.6" text-anchor="middle" fill="#000" textLength="9.90" lengthAdjust="spacingAndGlyphs" stroke="#000" stroke-width="0.05">25</text>
<text x="448.75" y="667.80" font-size="8.6" text-anchor="middle" fill="#000" textLength="9.90" lengthAdjust="spacingAndGlyphs" stroke="#000" stroke-width="0.05">26</text>
<text x="462.90" y="667.80" font-size="8.6" text-anchor="middle" fill="#000" textLength="9.90" lengthAdjust="spacingAndGlyphs" stroke="#000" stroke-width="0.05">27</text>
<text x="477.05" y="667.80" font-size="8.6" text-anchor="middle" fill="#000" textLength="9.90" lengthAdjust="spacingAndGlyphs" stroke="#000" stroke-width="0.05">28</text>
<text transform="translate(27.30,631.40) rotate(-90)" font-size="14.2" fill="#000" textLength="31.61" lengthAdjust="spacingAndGlyphs" stroke="#000" stroke-width="0.42">Ferritin,</text>
<text transform="translate(27.30,596.01) rotate(-90)" font-size="14.2" fill="#000" textLength="22.91" lengthAdjust="spacingAndGlyphs" stroke="#000" stroke-width="0.42">µg/L</text>
<rect x="76.90" y="758.20" width="6.50" height="2.00" fill="#000"/>
<text x="69.30" y="762.28" font-size="8.6" text-anchor="end" fill="#000" textLength="5.45" lengthAdjust="spacingAndGlyphs">0</text>
<rect x="76.90" y="745.58" width="6.50" height="2.00" fill="#000"/>
<text x="69.30" y="749.66" font-size="8.6" text-anchor="end" fill="#000" textLength="5.45" lengthAdjust="spacingAndGlyphs">1</text>
<rect x="76.90" y="732.96" width="6.50" height="2.00" fill="#000"/>
<text x="69.30" y="737.04" font-size="8.6" text-anchor="end" fill="#000" textLength="5.45" lengthAdjust="spacingAndGlyphs">2</text>
<rect x="76.90" y="720.34" width="6.50" height="2.00" fill="#000"/>
<text x="69.30" y="724.42" font-size="8.6" text-anchor="end" fill="#000" textLength="5.45" lengthAdjust="spacingAndGlyphs">3</text>
<rect x="76.90" y="707.72" width="6.50" height="2.00" fill="#000"/>
<text x="69.30" y="711.80" font-size="8.6" text-anchor="end" fill="#000" textLength="5.45" lengthAdjust="spacingAndGlyphs">4</text>
<rect x="76.90" y="695.10" width="6.50" height="2.00" fill="#000"/>
<text x="69.30" y="699.18" font-size="8.6" text-anchor="end" fill="#000" textLength="5.45" lengthAdjust="spacingAndGlyphs">5</text>
<rect x="90.10" y="717.55" width="9.40" height="41.65" fill="#a76b26"/>
<text transform="translate(97.70,714.75) rotate(-90)" font-size="6.7" fill="#000" textLength="10.50" lengthAdjust="spacingAndGlyphs">3.3</text>
<rect x="175.00" y="731.44" width="9.40" height="27.76" fill="#a76b26"/>
<text transform="translate(182.60,728.64) rotate(-90)" font-size="6.7" fill="#000" textLength="10.50" lengthAdjust="spacingAndGlyphs">2.2</text>
<rect x="203.30" y="750.74" width="9.40" height="8.46" fill="#a76b26"/>
<text transform="translate(210.90,747.94) rotate(-90)" font-size="6.7" fill="#000" textLength="14.70" lengthAdjust="spacingAndGlyphs">0.67</text>
<rect x="274.05" y="745.32" width="9.40" height="13.88" fill="#a76b26"/>
<text transform="translate(281.65,742.52) rotate(-90)" font-size="6.7" fill="#000" textLength="10.50" lengthAdjust="spacingAndGlyphs">1.1</text>
<rect x="472.15" y="736.11" width="9.40" height="23.09" fill="#a76b26"/>
<text transform="translate(479.75,733.31) rotate(-90)" font-size="6.7" fill="#000" textLength="14.70" lengthAdjust="spacingAndGlyphs">1.83</text>
<rect x="82.30" y="690.40" width="2.20" height="69.80" fill="#000"/>
<rect x="82.30" y="758.20" width="401.40" height="2.00" fill="#000"/>
<text x="94.80" y="773.50" font-size="8.6" text-anchor="middle" fill="#000" textLength="4.95" lengthAdjust="spacingAndGlyphs" stroke="#000" stroke-width="0.05">1</text>
<text x="108.95" y="773.50" font-size="8.6" text-anchor="middle" fill="#000" textLength="4.95" lengthAdjust="spacingAndGlyphs" stroke="#000" stroke-width="0.05">2</text>
<text x="123.10" y="773.50" font-size="8.6" text-anchor="middle" fill="#000" textLength="4.95" lengthAdjust="spacingAndGlyphs" stroke="#000" stroke-width="0.05">3</text>
<text x="137.25" y="773.50" font-size="8.6" text-anchor="middle" fill="#000" textLength="4.95" lengthAdjust="spacingAndGlyphs" stroke="#000" stroke-width="0.05">4</text>
<text x="151.40" y="773.50" font-size="8.6" text-anchor="middle" fill="#000" textLength="4.95" lengthAdjust="spacingAndGlyphs" stroke="#000" stroke-width="0.05">5</text>
<text x="165.55" y="773.50" font-size="8.6" text-anchor="middle" fill="#000" textLength="4.95" lengthAdjust="spacingAndGlyphs" stroke="#000" stroke-width="0.05">6</text>
<text x="179.70" y="773.50" font-size="8.6" text-anchor="middle" fill="#000" textLength="4.95" lengthAdjust="spacingAndGlyphs" stroke="#000" stroke-width="0.05">7</text>
<text x="193.85" y="773.50" font-size="8.6" text-anchor="middle" fill="#000" textLength="4.95" lengthAdjust="spacingAndGlyphs" stroke="#000" stroke-width="0.05">8</text>
<text x="208.00" y="773.50" font-size="8.6" text-anchor="middle" fill="#000" textLength="4.95" lengthAdjust="spacingAndGlyphs" stroke="#000" stroke-width="0.05">9</text>
<text x="222.15" y="773.50" font-size="8.6" text-anchor="middle" fill="#000" textLength="9.90" lengthAdjust="spacingAndGlyphs" stroke="#000" stroke-width="0.05">10</text>
<text x="236.30" y="773.50" font-size="8.6" text-anchor="middle" fill="#000" textLength="9.90" lengthAdjust="spacingAndGlyphs" stroke="#000" stroke-width="0.05">11</text>
<text x="250.45" y="773.50" font-size="8.6" text-anchor="middle" fill="#000" textLength="9.90" lengthAdjust="spacingAndGlyphs" stroke="#000" stroke-width="0.05">12</text>
<text x="264.60" y="773.50" font-size="8.6" text-anchor="middle" fill="#000" textLength="9.90" lengthAdjust="spacingAndGlyphs" stroke="#000" stroke-width="0.05">13</text>
<text x="278.75" y="773.50" font-size="8.6" text-anchor="middle" fill="#000" textLength="9.90" lengthAdjust="spacingAndGlyphs" stroke="#000" stroke-width="0.05">14</text>
<text x="292.90" y="773.50" font-size="8.6" text-anchor="middle" fill="#000" textLength="9.90" lengthAdjust="spacingAndGlyphs" stroke="#000" stroke-width="0.05">15</text>
<text x="307.05" y="773.50" font-size="8.6" text-anchor="middle" fill="#000" textLength="9.90" lengthAdjust="spacingAndGlyphs" stroke="#000" stroke-width="0.05">16</text>
<text x="321.20" y="773.50" font-size="8.6" text-anchor="middle" fill="#000" textLength="9.90" lengthAdjust="spacingAndGlyphs" stroke="#000" stroke-width="0.05">17</text>
<text x="335.35" y="773.50" font-size="8.6" text-anchor="middle" fill="#000" textLength="9.90" lengthAdjust="spacingAndGlyphs" stroke="#000" stroke-width="0.05">18</text>
<text x="349.50" y="773.50" font-size="8.6" text-anchor="middle" fill="#000" textLength="9.90" lengthAdjust="spacingAndGlyphs" stroke="#000" stroke-width="0.05">19</text>
<text x="363.65" y="773.50" font-size="8.6" text-anchor="middle" fill="#000" textLength="9.90" lengthAdjust="spacingAndGlyphs" stroke="#000" stroke-width="0.05">20</text>
<text x="377.80" y="773.50" font-size="8.6" text-anchor="middle" fill="#000" textLength="9.90" lengthAdjust="spacingAndGlyphs" stroke="#000" stroke-width="0.05">21</text>
<text x="391.95" y="773.50" font-size="8.6" text-anchor="middle" fill="#000" textLength="9.90" lengthAdjust="spacingAndGlyphs" stroke="#000" stroke-width="0.05">22</text>
<text x="406.10" y="773.50" font-size="8.6" text-anchor="middle" fill="#000" textLength="9.90" lengthAdjust="spacingAndGlyphs" stroke="#000" stroke-width="0.05">23</text>
<text x="420.25" y="773.50" font-size="8.6" text-anchor="middle" fill="#000" textLength="9.90" lengthAdjust="spacingAndGlyphs" stroke="#000" stroke-width="0.05">24</text>
<text x="434.40" y="773.50" font-size="8.6" text-anchor="middle" fill="#000" textLength="9.90" lengthAdjust="spacingAndGlyphs" stroke="#000" stroke-width="0.05">25</text>
<text x="448.55" y="773.50" font-size="8.6" text-anchor="middle" fill="#000" textLength="9.90" lengthAdjust="spacingAndGlyphs" stroke="#000" stroke-width="0.05">26</text>
<text x="462.70" y="773.50" font-size="8.6" text-anchor="middle" fill="#000" textLength="9.90" lengthAdjust="spacingAndGlyphs" stroke="#000" stroke-width="0.05">27</text>
<text x="476.85" y="773.50" font-size="8.6" text-anchor="middle" fill="#000" textLength="9.90" lengthAdjust="spacingAndGlyphs" stroke="#000" stroke-width="0.05">28</text>
<text transform="translate(54.70,757.60) rotate(-90)" font-size="14.2" fill="#000" textLength="47.34" lengthAdjust="spacingAndGlyphs" stroke="#000" stroke-width="0.42">Fibrinogen,</text>
<text transform="translate(54.70,707.35) rotate(-90)" font-size="14.2" fill="#000" textLength="15.35" lengthAdjust="spacingAndGlyphs" stroke="#000" stroke-width="0.42">g/L</text>
<text x="43.00" y="804.20" font-size="8.6" fill="#000" textLength="24.00" lengthAdjust="spacingAndGlyphs" stroke="#000" stroke-width="0.12">PT (s)</text>
<text x="43.00" y="815.40" font-size="8.6" fill="#000" textLength="32.60" lengthAdjust="spacingAndGlyphs" stroke="#000" stroke-width="0.12">aPTT (s)</text>
<text x="93.50" y="804.20" font-size="8.6" text-anchor="middle" fill="#000" textLength="18.49" lengthAdjust="spacingAndGlyphs" stroke="#000" stroke-width="0.12">11.6</text>
<text x="178.30" y="804.20" font-size="8.6" text-anchor="middle" fill="#000" textLength="18.49" lengthAdjust="spacingAndGlyphs" stroke="#000" stroke-width="0.12">13.4</text>
<text x="277.90" y="804.20" font-size="8.6" text-anchor="middle" fill="#000" textLength="18.49" lengthAdjust="spacingAndGlyphs" stroke="#000" stroke-width="0.12">10.8</text>
<text x="475.80" y="804.20" font-size="8.6" text-anchor="middle" fill="#000" textLength="18.49" lengthAdjust="spacingAndGlyphs" stroke="#000" stroke-width="0.12">11.6</text>
<text x="93.20" y="815.40" font-size="8.6" text-anchor="middle" fill="#000" textLength="10.56" lengthAdjust="spacingAndGlyphs" stroke="#000" stroke-width="0.12">32</text>
<text x="178.20" y="815.40" font-size="8.6" text-anchor="middle" fill="#000" textLength="10.56" lengthAdjust="spacingAndGlyphs" stroke="#000" stroke-width="0.12">49</text>
<text x="277.20" y="815.40" font-size="8.6" text-anchor="middle" fill="#000" textLength="10.56" lengthAdjust="spacingAndGlyphs" stroke="#000" stroke-width="0.12">51</text>
<text x="475.80" y="815.40" font-size="8.6" text-anchor="middle" fill="#000" textLength="10.56" lengthAdjust="spacingAndGlyphs" stroke="#000" stroke-width="0.12">42</text>
<rect x="43.00" y="823.40" width="444.70" height="2.00" fill="#000"/>
<text x="186.30" y="839.10" font-size="8.6" fill="#000" textLength="113.00" lengthAdjust="spacingAndGlyphs" stroke="#000" stroke-width="0.12">Cryoprecipitate (71-428 mL)</text>
<line x1="205.40" y1="848.00" x2="205.40" y2="853.50" stroke="#b0681c" stroke-width="1.3"/>
<path d="M202.20,851.00 L205.40,853.40 L208.60,851.00 L205.40,859.00 Z" fill="#b0681c"/>
<line x1="220.90" y1="848.00" x2="220.90" y2="853.50" stroke="#b0681c" stroke-width="1.3"/>
<path d="M217.70,851.00 L220.90,853.40 L224.10,851.00 L220.90,859.00 Z" fill="#b0681c"/>
<line x1="235.00" y1="848.00" x2="235.00" y2="853.50" stroke="#b0681c" stroke-width="1.3"/>
<path d="M231.80,851.00 L235.00,853.40 L238.20,851.00 L235.00,859.00 Z" fill="#b0681c"/>
<line x1="248.90" y1="848.00" x2="248.90" y2="853.50" stroke="#b0681c" stroke-width="1.3"/>
<path d="M245.70,851.00 L248.90,853.40 L252.10,851.00 L248.90,859.00 Z" fill="#b0681c"/>
<line x1="263.60" y1="848.00" x2="263.60" y2="853.50" stroke="#b0681c" stroke-width="1.3"/>
<path d="M260.40,851.00 L263.60,853.40 L266.80,851.00 L263.60,859.00 Z" fill="#b0681c"/>
<line x1="278.20" y1="848.00" x2="278.20" y2="853.50" stroke="#b0681c" stroke-width="1.3"/>
<path d="M275.00,851.00 L278.20,853.40 L281.40,851.00 L278.20,859.00 Z" fill="#b0681c"/>
<text x="57.80" y="873.80" font-size="8.9" font-weight="bold" fill="#000" textLength="22.20" lengthAdjust="spacingAndGlyphs">Days</text>
<text x="94.40" y="873.80" font-size="8.9" text-anchor="middle" font-weight="bold" fill="#000" textLength="5.10" lengthAdjust="spacingAndGlyphs">1</text>
<text x="108.55" y="873.80" font-size="8.9" text-anchor="middle" font-weight="bold" fill="#000" textLength="5.10" lengthAdjust="spacingAndGlyphs">2</text>
<text x="122.70" y="873.80" font-size="8.9" text-anchor="middle" font-weight="bold" fill="#000" textLength="5.10" lengthAdjust="spacingAndGlyphs">3</text>
<text x="136.85" y="873.80" font-size="8.9" text-anchor="middle" font-weight="bold" fill="#000" textLength="5.10" lengthAdjust="spacingAndGlyphs">4</text>
<text x="151.00" y="873.80" font-size="8.9" text-anchor="middle" font-weight="bold" fill="#000" textLength="5.10" lengthAdjust="spacingAndGlyphs">5</text>
<text x="165.15" y="873.80" font-size="8.9" text-anchor="middle" font-weight="bold" fill="#000" textLength="5.10" lengthAdjust="spacingAndGlyphs">6</text>
<text x="179.30" y="873.80" font-size="8.9" text-anchor="middle" font-weight="bold" fill="#000" textLength="5.10" lengthAdjust="spacingAndGlyphs">7</text>
<text x="193.45" y="873.80" font-size="8.9" text-anchor="middle" font-weight="bold" fill="#000" textLength="5.10" lengthAdjust="spacingAndGlyphs">8</text>
<text x="207.60" y="873.80" font-size="8.9" text-anchor="middle" font-weight="bold" fill="#000" textLength="5.10" lengthAdjust="spacingAndGlyphs">9</text>
<text x="221.75" y="873.80" font-size="8.9" text-anchor="middle" font-weight="bold" fill="#000" textLength="10.20" lengthAdjust="spacingAndGlyphs">10</text>
<text x="235.90" y="873.80" font-size="8.9" text-anchor="middle" font-weight="bold" fill="#000" textLength="10.20" lengthAdjust="spacingAndGlyphs">11</text>
<text x="250.05" y="873.80" font-size="8.9" text-anchor="middle" font-weight="bold" fill="#000" textLength="10.20" lengthAdjust="spacingAndGlyphs">12</text>
<text x="264.20" y="873.80" font-size="8.9" text-anchor="middle" font-weight="bold" fill="#000" textLength="10.20" lengthAdjust="spacingAndGlyphs">13</text>
<text x="278.35" y="873.80" font-size="8.9" text-anchor="middle" font-weight="bold" fill="#000" textLength="10.20" lengthAdjust="spacingAndGlyphs">14</text>
<text x="292.50" y="873.80" font-size="8.9" text-anchor="middle" font-weight="bold" fill="#000" textLength="10.20" lengthAdjust="spacingAndGlyphs">15</text>
<text x="306.65" y="873.80" font-size="8.9" text-anchor="middle" font-weight="bold" fill="#000" textLength="10.20" lengthAdjust="spacingAndGlyphs">16</text>
<text x="320.80" y="873.80" font-size="8.9" text-anchor="middle" font-weight="bold" fill="#000" textLength="10.20" lengthAdjust="spacingAndGlyphs">17</text>
<text x="334.95" y="873.80" font-size="8.9" text-anchor="middle" font-weight="bold" fill="#000" textLength="10.20" lengthAdjust="spacingAndGlyphs">18</text>
<text x="349.10" y="873.80" font-size="8.9" text-anchor="middle" font-weight="bold" fill="#000" textLength="10.20" lengthAdjust="spacingAndGlyphs">19</text>
<text x="363.25" y="873.80" font-size="8.9" text-anchor="middle" font-weight="bold" fill="#000" textLength="10.20" lengthAdjust="spacingAndGlyphs">20</text>
<text x="377.40" y="873.80" font-size="8.9" text-anchor="middle" font-weight="bold" fill="#000" textLength="10.20" lengthAdjust="spacingAndGlyphs">21</text>
<text x="391.55" y="873.80" font-size="8.9" text-anchor="middle" font-weight="bold" fill="#000" textLength="10.20" lengthAdjust="spacingAndGlyphs">22</text>
<text x="405.70" y="873.80" font-size="8.9" text-anchor="middle" font-weight="bold" fill="#000" textLength="10.20" lengthAdjust="spacingAndGlyphs">23</text>
<text x="419.85" y="873.80" font-size="8.9" text-anchor="middle" font-weight="bold" fill="#000" textLength="10.20" lengthAdjust="spacingAndGlyphs">24</text>
<text x="434.00" y="873.80" font-size="8.9" text-anchor="middle" font-weight="bold" fill="#000" textLength="10.20" lengthAdjust="spacingAndGlyphs">25</text>
<text x="448.15" y="873.80" font-size="8.9" text-anchor="middle" font-weight="bold" fill="#000" textLength="10.20" lengthAdjust="spacingAndGlyphs">26</text>
<text x="462.30" y="873.80" font-size="8.9" text-anchor="middle" font-weight="bold" fill="#000" textLength="10.20" lengthAdjust="spacingAndGlyphs">27</text>
<text x="476.45" y="873.80" font-size="8.9" text-anchor="middle" font-weight="bold" fill="#000" textLength="10.20" lengthAdjust="spacingAndGlyphs">28</text>
<line x1="483.2" y1="871.20" x2="486.5" y2="871.20" stroke="#000" stroke-width="1.4"/>
<path d="M484.4,868.50 L490.0,871.20 L484.4,873.90 L485.9,871.20 Z" fill="#000"/>
<line x1="94.40" y1="887.5" x2="321.10" y2="887.5" stroke="#a0001e" stroke-width="2"/>
<line x1="321.1" y1="882" x2="321.1" y2="893.5" stroke="#a0001e" stroke-width="2"/>
<path d="M94.40,882.90 L98.90,890.80 L89.90,890.80 Z" fill="#a0001e" stroke="#7a0016" stroke-width="0.5"/>
<path d="M151.00,882.90 L155.50,890.80 L146.50,890.80 Z" fill="#a0001e" stroke="#7a0016" stroke-width="0.5"/>
<path d="M165.15,882.90 L169.65,890.80 L160.65,890.80 Z" fill="#a0001e" stroke="#7a0016" stroke-width="0.5"/>
<path d="M335.40,882.90 L339.70,890.70 L331.10,890.70 Z" fill="#2d4a8c" stroke="#13306c" stroke-width="0.5"/>
<text x="93.70" y="905.60" font-size="7.1" text-anchor="middle" fill="#333">CRS</text>
<text x="93.70" y="913.80" font-size="7.1" text-anchor="middle" fill="#333">Gr 2</text>
<text x="146.20" y="905.60" font-size="7.1" text-anchor="middle" fill="#333">CRS</text>
<text x="146.20" y="913.80" font-size="7.1" text-anchor="middle" fill="#333">Gr 3</text>
<text x="168.20" y="905.60" font-size="7.1" text-anchor="middle" fill="#333">CRS</text>
<text x="168.20" y="913.80" font-size="7.1" text-anchor="middle" fill="#333">Gr 4</text>
<text x="330.10" y="905.60" font-size="7.1" fill="#333">CRS</text>
<text x="330.10" y="913.80" font-size="7.1" fill="#333" textLength="27.60" lengthAdjust="spacingAndGlyphs">Resolved</text>
<line x1="92.60" y1="931.90" x2="191.20" y2="931.90" stroke="#3f0d4c" stroke-width="2.3"/>
<line x1="92.60" y1="925.90" x2="92.60" y2="937.90" stroke="#3f0d4c" stroke-width="2.2"/>
<line x1="191.20" y1="925.90" x2="191.20" y2="937.90" stroke="#3f0d4c" stroke-width="2.2"/>
<text x="197.80" y="934.80" font-size="9.0" fill="#000" stroke="#000" stroke-width="0.12">High fevers (day 1-8)</text>
<line x1="149.70" y1="948.80" x2="276.50" y2="948.80" stroke="#3f0d4c" stroke-width="2.3"/>
<line x1="149.70" y1="942.80" x2="149.70" y2="954.80" stroke="#3f0d4c" stroke-width="2.2"/>
<line x1="276.50" y1="942.80" x2="276.50" y2="954.80" stroke="#3f0d4c" stroke-width="2.2"/>
<text x="283.00" y="951.70" font-size="9.0" fill="#000" stroke="#000" stroke-width="0.12">Vasopressor (day 5-14)</text>
<line x1="192.80" y1="966.50" x2="262.40" y2="966.50" stroke="#3f0d4c" stroke-width="2.3"/>
<line x1="192.80" y1="960.50" x2="192.80" y2="972.50" stroke="#3f0d4c" stroke-width="2.2"/>
<line x1="262.40" y1="960.50" x2="262.40" y2="972.50" stroke="#3f0d4c" stroke-width="2.2"/>
<text x="268.70" y="969.40" font-size="9.0" fill="#000" stroke="#000" stroke-width="0.12">Intubation (day 8-13)</text>
<line x1="164.70" y1="983.80" x2="319.90" y2="983.80" stroke="#3f0d4c" stroke-width="2.3"/>
<line x1="164.70" y1="977.80" x2="164.70" y2="989.80" stroke="#3f0d4c" stroke-width="2.2"/>
<line x1="319.90" y1="977.80" x2="319.90" y2="989.80" stroke="#3f0d4c" stroke-width="2.2"/>
<text x="327.00" y="986.70" font-size="9.0" fill="#000" stroke="#000" stroke-width="0.12">ICU stay (day 6-17)</text>
<text x="5.40" y="1031.80" font-size="24.4" font-weight="bold" fill="#000" stroke="#000" stroke-width="0.9">C</text>
<text x="235.80" y="1021.10" font-size="12.1" fill="#000" textLength="96.00" lengthAdjust="spacingAndGlyphs">Pediatric r/r ALL</text>
<text x="142.20" y="1037.70" font-size="12.1" fill="#000" textLength="283.40" lengthAdjust="spacingAndGlyphs">12-year-old male diagnosed with ALL Nov 2006</text>
<rect x="76.90" y="1149.40" width="6.50" height="2.00" fill="#000"/>
<text x="69.30" y="1153.48" font-size="8.6" text-anchor="end" fill="#000" textLength="5.45" lengthAdjust="spacingAndGlyphs">0</text>
<rect x="76.90" y="1117.60" width="6.50" height="2.00" fill="#000"/>
<text x="69.30" y="1121.68" font-size="8.6" text-anchor="end" fill="#000" textLength="27.25" lengthAdjust="spacingAndGlyphs">50000</text>
<rect x="76.90" y="1085.80" width="6.50" height="2.00" fill="#000"/>
<text x="69.30" y="1089.88" font-size="8.6" text-anchor="end" fill="#000" textLength="32.70" lengthAdjust="spacingAndGlyphs">100000</text>
<rect x="76.90" y="1054.00" width="6.50" height="2.00" fill="#000"/>
<text x="69.30" y="1058.08" font-size="8.6" text-anchor="end" fill="#000" textLength="32.70" lengthAdjust="spacingAndGlyphs">150000</text>
<rect x="89.20" y="1149.50" width="9.40" height="0.90" fill="#522660"/>
<text transform="translate(96.98,1146.70) rotate(-90)" font-size="7.2" fill="#000" textLength="16.80" lengthAdjust="spacingAndGlyphs">1410</text>
<rect x="103.27" y="1149.38" width="9.40" height="1.02" fill="#522660"/>
<text transform="translate(111.05,1146.58) rotate(-90)" font-size="7.2" fill="#000" textLength="16.80" lengthAdjust="spacingAndGlyphs">1610</text>
<rect x="145.48" y="1130.62" width="9.40" height="19.78" fill="#522660"/>
<text transform="translate(153.26,1127.82) rotate(-90)" font-size="7.2" fill="#000" textLength="21.00" lengthAdjust="spacingAndGlyphs">31100</text>
<rect x="173.62" y="1086.80" width="9.40" height="63.60" fill="#522660"/>
<text transform="translate(181.40,1084.00) rotate(-90)" font-size="7.2" fill="#000" textLength="25.20" lengthAdjust="spacingAndGlyphs">100000</text>
<rect x="243.97" y="1143.72" width="9.40" height="6.68" fill="#522660"/>
<text transform="translate(251.75,1140.92) rotate(-90)" font-size="7.2" fill="#000" textLength="21.00" lengthAdjust="spacingAndGlyphs">10500</text>
<rect x="272.11" y="1146.90" width="9.40" height="3.50" fill="#522660"/>
<text transform="translate(279.89,1144.10) rotate(-90)" font-size="7.2" fill="#000" textLength="16.80" lengthAdjust="spacingAndGlyphs">5510</text>
<rect x="286.18" y="1147.24" width="9.40" height="3.16" fill="#522660"/>
<text transform="translate(293.96,1144.44) rotate(-90)" font-size="7.2" fill="#000" textLength="16.80" lengthAdjust="spacingAndGlyphs">4970</text>
<rect x="469.09" y="1148.32" width="9.40" height="2.08" fill="#522660"/>
<text transform="translate(476.87,1145.52) rotate(-90)" font-size="7.2" fill="#000" textLength="16.80" lengthAdjust="spacingAndGlyphs">3270</text>
<rect x="82.30" y="1048.75" width="2.20" height="102.65" fill="#000"/>
<rect x="82.30" y="1149.40" width="398.20" height="2.00" fill="#000"/>
<text x="93.90" y="1165.40" font-size="8.6" text-anchor="middle" fill="#000" textLength="4.95" lengthAdjust="spacingAndGlyphs" stroke="#000" stroke-width="0.05">1</text>
<text x="107.97" y="1165.40" font-size="8.6" text-anchor="middle" fill="#000" textLength="4.95" lengthAdjust="spacingAndGlyphs" stroke="#000" stroke-width="0.05">2</text>
<text x="122.04" y="1165.40" font-size="8.6" text-anchor="middle" fill="#000" textLength="4.95" lengthAdjust="spacingAndGlyphs" stroke="#000" stroke-width="0.05">3</text>
<text x="136.11" y="1165.40" font-size="8.6" text-anchor="middle" fill="#000" textLength="4.95" lengthAdjust="spacingAndGlyphs" stroke="#000" stroke-width="0.05">4</text>
<text x="150.18" y="1165.40" font-size="8.6" text-anchor="middle" fill="#000" textLength="4.95" lengthAdjust="spacingAndGlyphs" stroke="#000" stroke-width="0.05">5</text>
<text x="164.25" y="1165.40" font-size="8.6" text-anchor="middle" fill="#000" textLength="4.95" lengthAdjust="spacingAndGlyphs" stroke="#000" stroke-width="0.05">6</text>
<text x="178.32" y="1165.40" font-size="8.6" text-anchor="middle" fill="#000" textLength="4.95" lengthAdjust="spacingAndGlyphs" stroke="#000" stroke-width="0.05">7</text>
<text x="192.39" y="1165.40" font-size="8.6" text-anchor="middle" fill="#000" textLength="4.95" lengthAdjust="spacingAndGlyphs" stroke="#000" stroke-width="0.05">8</text>
<text x="206.46" y="1165.40" font-size="8.6" text-anchor="middle" fill="#000" textLength="4.95" lengthAdjust="spacingAndGlyphs" stroke="#000" stroke-width="0.05">9</text>
<text x="220.53" y="1165.40" font-size="8.6" text-anchor="middle" fill="#000" textLength="9.90" lengthAdjust="spacingAndGlyphs" stroke="#000" stroke-width="0.05">10</text>
<text x="234.60" y="1165.40" font-size="8.6" text-anchor="middle" fill="#000" textLength="9.90" lengthAdjust="spacingAndGlyphs" stroke="#000" stroke-width="0.05">11</text>
<text x="248.67" y="1165.40" font-size="8.6" text-anchor="middle" fill="#000" textLength="9.90" lengthAdjust="spacingAndGlyphs" stroke="#000" stroke-width="0.05">12</text>
<text x="262.74" y="1165.40" font-size="8.6" text-anchor="middle" fill="#000" textLength="9.90" lengthAdjust="spacingAndGlyphs" stroke="#000" stroke-width="0.05">13</text>
<text x="276.81" y="1165.40" font-size="8.6" text-anchor="middle" fill="#000" textLength="9.90" lengthAdjust="spacingAndGlyphs" stroke="#000" stroke-width="0.05">14</text>
<text x="290.88" y="1165.40" font-size="8.6" text-anchor="middle" fill="#000" textLength="9.90" lengthAdjust="spacingAndGlyphs" stroke="#000" stroke-width="0.05">15</text>
<text x="304.95" y="1165.40" font-size="8.6" text-anchor="middle" fill="#000" textLength="9.90" lengthAdjust="spacingAndGlyphs" stroke="#000" stroke-width="0.05">16</text>
<text x="319.02" y="1165.40" font-size="8.6" text-anchor="middle" fill="#000" textLength="9.90" lengthAdjust="spacingAndGlyphs" stroke="#000" stroke-width="0.05">17</text>
<text x="333.09" y="1165.40" font-size="8.6" text-anchor="middle" fill="#000" textLength="9.90" lengthAdjust="spacingAndGlyphs" stroke="#000" stroke-width="0.05">18</text>
<text x="347.16" y="1165.40" font-size="8.6" text-anchor="middle" fill="#000" textLength="9.90" lengthAdjust="spacingAndGlyphs" stroke="#000" stroke-width="0.05">19</text>
<text x="361.23" y="1165.40" font-size="8.6" text-anchor="middle" fill="#000" textLength="9.90" lengthAdjust="spacingAndGlyphs" stroke="#000" stroke-width="0.05">20</text>
<text x="375.30" y="1165.40" font-size="8.6" text-anchor="middle" fill="#000" textLength="9.90" lengthAdjust="spacingAndGlyphs" stroke="#000" stroke-width="0.05">21</text>
<text x="389.37" y="1165.40" font-size="8.6" text-anchor="middle" fill="#000" textLength="9.90" lengthAdjust="spacingAndGlyphs" stroke="#000" stroke-width="0.05">22</text>
<text x="403.44" y="1165.40" font-size="8.6" text-anchor="middle" fill="#000" textLength="9.90" lengthAdjust="spacingAndGlyphs" stroke="#000" stroke-width="0.05">23</text>
<text x="417.51" y="1165.40" font-size="8.6" text-anchor="middle" fill="#000" textLength="9.90" lengthAdjust="spacingAndGlyphs" stroke="#000" stroke-width="0.05">24</text>
<text x="431.58" y="1165.40" font-size="8.6" text-anchor="middle" fill="#000" textLength="9.90" lengthAdjust="spacingAndGlyphs" stroke="#000" stroke-width="0.05">25</text>
<text x="445.65" y="1165.40" font-size="8.6" text-anchor="middle" fill="#000" textLength="9.90" lengthAdjust="spacingAndGlyphs" stroke="#000" stroke-width="0.05">26</text>
<text x="459.72" y="1165.40" font-size="8.6" text-anchor="middle" fill="#000" textLength="9.90" lengthAdjust="spacingAndGlyphs" stroke="#000" stroke-width="0.05">27</text>
<text x="473.79" y="1165.40" font-size="8.6" text-anchor="middle" fill="#000" textLength="9.90" lengthAdjust="spacingAndGlyphs" stroke="#000" stroke-width="0.05">28</text>
<text transform="translate(27.30,1129.05) rotate(-90)" font-size="14.2" fill="#000" textLength="32.02" lengthAdjust="spacingAndGlyphs" stroke="#000" stroke-width="0.42">Ferritin,</text>
<text transform="translate(27.30,1093.21) rotate(-90)" font-size="14.2" fill="#000" textLength="23.21" lengthAdjust="spacingAndGlyphs" stroke="#000" stroke-width="0.42">µg/L</text>
<rect x="76.90" y="1255.20" width="6.50" height="2.00" fill="#000"/>
<text x="69.30" y="1259.28" font-size="8.6" text-anchor="end" fill="#000" textLength="5.45" lengthAdjust="spacingAndGlyphs">0</text>
<rect x="76.90" y="1242.72" width="6.50" height="2.00" fill="#000"/>
<text x="69.30" y="1246.80" font-size="8.6" text-anchor="end" fill="#000" textLength="5.45" lengthAdjust="spacingAndGlyphs">1</text>
<rect x="76.90" y="1230.24" width="6.50" height="2.00" fill="#000"/>
<text x="69.30" y="1234.32" font-size="8.6" text-anchor="end" fill="#000" textLength="5.45" lengthAdjust="spacingAndGlyphs">2</text>
<rect x="76.90" y="1217.76" width="6.50" height="2.00" fill="#000"/>
<text x="69.30" y="1221.84" font-size="8.6" text-anchor="end" fill="#000" textLength="5.45" lengthAdjust="spacingAndGlyphs">3</text>
<rect x="76.90" y="1205.28" width="6.50" height="2.00" fill="#000"/>
<text x="69.30" y="1209.36" font-size="8.6" text-anchor="end" fill="#000" textLength="5.45" lengthAdjust="spacingAndGlyphs">4</text>
<rect x="76.90" y="1192.80" width="6.50" height="2.00" fill="#000"/>
<text x="69.30" y="1196.88" font-size="8.6" text-anchor="end" fill="#000" textLength="5.45" lengthAdjust="spacingAndGlyphs">5</text>
<rect x="89.00" y="1229.99" width="9.40" height="26.21" fill="#a76b26"/>
<text transform="translate(96.60,1227.19) rotate(-90)" font-size="6.7" fill="#000" textLength="10.50" lengthAdjust="spacingAndGlyphs">2.1</text>
<rect x="159.35" y="1244.84" width="9.40" height="11.36" fill="#a76b26"/>
<text transform="translate(166.95,1242.04) rotate(-90)" font-size="6.7" fill="#000" textLength="14.70" lengthAdjust="spacingAndGlyphs">0.91</text>
<rect x="173.42" y="1243.72" width="9.40" height="12.48" fill="#a76b26"/>
<text transform="translate(181.02,1240.92) rotate(-90)" font-size="6.7" fill="#000" textLength="4.20" lengthAdjust="spacingAndGlyphs">1</text>
<rect x="271.91" y="1229.99" width="9.40" height="26.21" fill="#a76b26"/>
<text transform="translate(279.51,1227.19) rotate(-90)" font-size="6.7" fill="#000" textLength="10.50" lengthAdjust="spacingAndGlyphs">2.1</text>
<rect x="468.89" y="1222.50" width="9.40" height="33.70" fill="#a76b26"/>
<text transform="translate(476.49,1219.70) rotate(-90)" font-size="6.7" fill="#000" textLength="10.50" lengthAdjust="spacingAndGlyphs">2.7</text>
<rect x="82.30" y="1187.40" width="2.20" height="69.80" fill="#000"/>
<rect x="82.30" y="1255.20" width="398.20" height="2.00" fill="#000"/>
<text x="93.70" y="1270.80" font-size="8.6" text-anchor="middle" fill="#000" textLength="4.95" lengthAdjust="spacingAndGlyphs" stroke="#000" stroke-width="0.05">1</text>
<text x="107.77" y="1270.80" font-size="8.6" text-anchor="middle" fill="#000" textLength="4.95" lengthAdjust="spacingAndGlyphs" stroke="#000" stroke-width="0.05">2</text>
<text x="121.84" y="1270.80" font-size="8.6" text-anchor="middle" fill="#000" textLength="4.95" lengthAdjust="spacingAndGlyphs" stroke="#000" stroke-width="0.05">3</text>
<text x="135.91" y="1270.80" font-size="8.6" text-anchor="middle" fill="#000" textLength="4.95" lengthAdjust="spacingAndGlyphs" stroke="#000" stroke-width="0.05">4</text>
<text x="149.98" y="1270.80" font-size="8.6" text-anchor="middle" fill="#000" textLength="4.95" lengthAdjust="spacingAndGlyphs" stroke="#000" stroke-width="0.05">5</text>
<text x="164.05" y="1270.80" font-size="8.6" text-anchor="middle" fill="#000" textLength="4.95" lengthAdjust="spacingAndGlyphs" stroke="#000" stroke-width="0.05">6</text>
<text x="178.12" y="1270.80" font-size="8.6" text-anchor="middle" fill="#000" textLength="4.95" lengthAdjust="spacingAndGlyphs" stroke="#000" stroke-width="0.05">7</text>
<text x="192.19" y="1270.80" font-size="8.6" text-anchor="middle" fill="#000" textLength="4.95" lengthAdjust="spacingAndGlyphs" stroke="#000" stroke-width="0.05">8</text>
<text x="206.26" y="1270.80" font-size="8.6" text-anchor="middle" fill="#000" textLength="4.95" lengthAdjust="spacingAndGlyphs" stroke="#000" stroke-width="0.05">9</text>
<text x="220.33" y="1270.80" font-size="8.6" text-anchor="middle" fill="#000" textLength="9.90" lengthAdjust="spacingAndGlyphs" stroke="#000" stroke-width="0.05">10</text>
<text x="234.40" y="1270.80" font-size="8.6" text-anchor="middle" fill="#000" textLength="9.90" lengthAdjust="spacingAndGlyphs" stroke="#000" stroke-width="0.05">11</text>
<text x="248.47" y="1270.80" font-size="8.6" text-anchor="middle" fill="#000" textLength="9.90" lengthAdjust="spacingAndGlyphs" stroke="#000" stroke-width="0.05">12</text>
<text x="262.54" y="1270.80" font-size="8.6" text-anchor="middle" fill="#000" textLength="9.90" lengthAdjust="spacingAndGlyphs" stroke="#000" stroke-width="0.05">13</text>
<text x="276.61" y="1270.80" font-size="8.6" text-anchor="middle" fill="#000" textLength="9.90" lengthAdjust="spacingAndGlyphs" stroke="#000" stroke-width="0.05">14</text>
<text x="290.68" y="1270.80" font-size="8.6" text-anchor="middle" fill="#000" textLength="9.90" lengthAdjust="spacingAndGlyphs" stroke="#000" stroke-width="0.05">15</text>
<text x="304.75" y="1270.80" font-size="8.6" text-anchor="middle" fill="#000" textLength="9.90" lengthAdjust="spacingAndGlyphs" stroke="#000" stroke-width="0.05">16</text>
<text x="318.82" y="1270.80" font-size="8.6" text-anchor="middle" fill="#000" textLength="9.90" lengthAdjust="spacingAndGlyphs" stroke="#000" stroke-width="0.05">17</text>
<text x="332.89" y="1270.80" font-size="8.6" text-anchor="middle" fill="#000" textLength="9.90" lengthAdjust="spacingAndGlyphs" stroke="#000" stroke-width="0.05">18</text>
<text x="346.96" y="1270.80" font-size="8.6" text-anchor="middle" fill="#000" textLength="9.90" lengthAdjust="spacingAndGlyphs" stroke="#000" stroke-width="0.05">19</text>
<text x="361.03" y="1270.80" font-size="8.6" text-anchor="middle" fill="#000" textLength="9.90" lengthAdjust="spacingAndGlyphs" stroke="#000" stroke-width="0.05">20</text>
<text x="375.10" y="1270.80" font-size="8.6" text-anchor="middle" fill="#000" textLength="9.90" lengthAdjust="spacingAndGlyphs" stroke="#000" stroke-width="0.05">21</text>
<text x="389.17" y="1270.80" font-size="8.6" text-anchor="middle" fill="#000" textLength="9.90" lengthAdjust="spacingAndGlyphs" stroke="#000" stroke-width="0.05">22</text>
<text x="403.24" y="1270.80" font-size="8.6" text-anchor="middle" fill="#000" textLength="9.90" lengthAdjust="spacingAndGlyphs" stroke="#000" stroke-width="0.05">23</text>
<text x="417.31" y="1270.80" font-size="8.6" text-anchor="middle" fill="#000" textLength="9.90" lengthAdjust="spacingAndGlyphs" stroke="#000" stroke-width="0.05">24</text>
<text x="431.38" y="1270.80" font-size="8.6" text-anchor="middle" fill="#000" textLength="9.90" lengthAdjust="spacingAndGlyphs" stroke="#000" stroke-width="0.05">25</text>
<text x="445.45" y="1270.80" font-size="8.6" text-anchor="middle" fill="#000" textLength="9.90" lengthAdjust="spacingAndGlyphs" stroke="#000" stroke-width="0.05">26</text>
<text x="459.52" y="1270.80" font-size="8.6" text-anchor="middle" fill="#000" textLength="9.90" lengthAdjust="spacingAndGlyphs" stroke="#000" stroke-width="0.05">27</text>
<text x="473.59" y="1270.80" font-size="8.6" text-anchor="middle" fill="#000" textLength="9.90" lengthAdjust="spacingAndGlyphs" stroke="#000" stroke-width="0.05">28</text>
<text transform="translate(54.70,1254.10) rotate(-90)" font-size="14.2" fill="#000" textLength="46.25" lengthAdjust="spacingAndGlyphs" stroke="#000" stroke-width="0.42">Fibrinogen,</text>
<text transform="translate(54.70,1204.99) rotate(-90)" font-size="14.2" fill="#000" textLength="14.99" lengthAdjust="spacingAndGlyphs" stroke="#000" stroke-width="0.42">g/L</text>
<text x="43.00" y="1301.40" font-size="8.6" fill="#000" textLength="24.00" lengthAdjust="spacingAndGlyphs" stroke="#000" stroke-width="0.12">PT (s)</text>
<text x="43.00" y="1312.80" font-size="8.6" fill="#000" textLength="32.60" lengthAdjust="spacingAndGlyphs" stroke="#000" stroke-width="0.12">aPTT (s)</text>
<text x="93.50" y="1301.40" font-size="8.6" text-anchor="middle" fill="#000" textLength="18.49" lengthAdjust="spacingAndGlyphs" stroke="#000" stroke-width="0.12">10.5</text>
<text x="178.40" y="1301.40" font-size="8.6" text-anchor="middle" fill="#000" textLength="10.56" lengthAdjust="spacingAndGlyphs" stroke="#000" stroke-width="0.12">12</text>
<text x="277.50" y="1301.40" font-size="8.6" text-anchor="middle" fill="#000" textLength="10.56" lengthAdjust="spacingAndGlyphs" stroke="#000" stroke-width="0.12">11</text>
<text x="476.00" y="1301.40" font-size="8.6" text-anchor="middle" fill="#000" textLength="18.49" lengthAdjust="spacingAndGlyphs" stroke="#000" stroke-width="0.12">11.2</text>
<text x="93.00" y="1312.80" font-size="8.6" text-anchor="middle" fill="#000" textLength="10.56" lengthAdjust="spacingAndGlyphs" stroke="#000" stroke-width="0.12">35</text>
<text x="178.20" y="1312.80" font-size="8.6" text-anchor="middle" fill="#000" textLength="10.56" lengthAdjust="spacingAndGlyphs" stroke="#000" stroke-width="0.12">78</text>
<text x="277.50" y="1312.80" font-size="8.6" text-anchor="middle" fill="#000" textLength="10.56" lengthAdjust="spacingAndGlyphs" stroke="#000" stroke-width="0.12">30</text>
<text x="475.60" y="1312.80" font-size="8.6" text-anchor="middle" fill="#000" textLength="10.56" lengthAdjust="spacingAndGlyphs" stroke="#000" stroke-width="0.12">27</text>
<rect x="43.00" y="1320.60" width="444.70" height="2.00" fill="#000"/>
<text x="133.70" y="1336.30" font-size="8.6" fill="#000" textLength="130.40" lengthAdjust="spacingAndGlyphs" stroke="#000" stroke-width="0.12">Cryoprecipitate (106 and 92 mL)</text>
<line x1="162.70" y1="1344.80" x2="162.70" y2="1350.30" stroke="#b0681c" stroke-width="1.3"/>
<path d="M159.50,1347.80 L162.70,1350.20 L165.90,1347.80 L162.70,1355.80 Z" fill="#b0681c"/>
<line x1="191.10" y1="1344.80" x2="191.10" y2="1350.30" stroke="#b0681c" stroke-width="1.3"/>
<path d="M187.90,1347.80 L191.10,1350.20 L194.30,1347.80 L191.10,1355.80 Z" fill="#b0681c"/>
<text x="58.10" y="1371.20" font-size="8.9" font-weight="bold" fill="#000" textLength="21.70" lengthAdjust="spacingAndGlyphs">Days</text>
<text x="93.70" y="1371.20" font-size="8.9" text-anchor="middle" font-weight="bold" fill="#000" textLength="5.10" lengthAdjust="spacingAndGlyphs">1</text>
<text x="107.77" y="1371.20" font-size="8.9" text-anchor="middle" font-weight="bold" fill="#000" textLength="5.10" lengthAdjust="spacingAndGlyphs">2</text>
<text x="121.84" y="1371.20" font-size="8.9" text-anchor="middle" font-weight="bold" fill="#000" textLength="5.10" lengthAdjust="spacingAndGlyphs">3</text>
<text x="135.91" y="1371.20" font-size="8.9" text-anchor="middle" font-weight="bold" fill="#000" textLength="5.10" lengthAdjust="spacingAndGlyphs">4</text>
<text x="149.98" y="1371.20" font-size="8.9" text-anchor="middle" font-weight="bold" fill="#000" textLength="5.10" lengthAdjust="spacingAndGlyphs">5</text>
<text x="164.05" y="1371.20" font-size="8.9" text-anchor="middle" font-weight="bold" fill="#000" textLength="5.10" lengthAdjust="spacingAndGlyphs">6</text>
<text x="178.12" y="1371.20" font-size="8.9" text-anchor="middle" font-weight="bold" fill="#000" textLength="5.10" lengthAdjust="spacingAndGlyphs">7</text>
<text x="192.19" y="1371.20" font-size="8.9" text-anchor="middle" font-weight="bold" fill="#000" textLength="5.10" lengthAdjust="spacingAndGlyphs">8</text>
<text x="206.26" y="1371.20" font-size="8.9" text-anchor="middle" font-weight="bold" fill="#000" textLength="5.10" lengthAdjust="spacingAndGlyphs">9</text>
<text x="220.33" y="1371.20" font-size="8.9" text-anchor="middle" font-weight="bold" fill="#000" textLength="10.20" lengthAdjust="spacingAndGlyphs">10</text>
<text x="234.40" y="1371.20" font-size="8.9" text-anchor="middle" font-weight="bold" fill="#000" textLength="10.20" lengthAdjust="spacingAndGlyphs">11</text>
<text x="248.47" y="1371.20" font-size="8.9" text-anchor="middle" font-weight="bold" fill="#000" textLength="10.20" lengthAdjust="spacingAndGlyphs">12</text>
<text x="262.54" y="1371.20" font-size="8.9" text-anchor="middle" font-weight="bold" fill="#000" textLength="10.20" lengthAdjust="spacingAndGlyphs">13</text>
<text x="276.61" y="1371.20" font-size="8.9" text-anchor="middle" font-weight="bold" fill="#000" textLength="10.20" lengthAdjust="spacingAndGlyphs">14</text>
<text x="290.68" y="1371.20" font-size="8.9" text-anchor="middle" font-weight="bold" fill="#000" textLength="10.20" lengthAdjust="spacingAndGlyphs">15</text>
<text x="304.75" y="1371.20" font-size="8.9" text-anchor="middle" font-weight="bold" fill="#000" textLength="10.20" lengthAdjust="spacingAndGlyphs">16</text>
<text x="318.82" y="1371.20" font-size="8.9" text-anchor="middle" font-weight="bold" fill="#000" textLength="10.20" lengthAdjust="spacingAndGlyphs">17</text>
<text x="332.89" y="1371.20" font-size="8.9" text-anchor="middle" font-weight="bold" fill="#000" textLength="10.20" lengthAdjust="spacingAndGlyphs">18</text>
<text x="346.96" y="1371.20" font-size="8.9" text-anchor="middle" font-weight="bold" fill="#000" textLength="10.20" lengthAdjust="spacingAndGlyphs">19</text>
<text x="361.03" y="1371.20" font-size="8.9" text-anchor="middle" font-weight="bold" fill="#000" textLength="10.20" lengthAdjust="spacingAndGlyphs">20</text>
<text x="375.10" y="1371.20" font-size="8.9" text-anchor="middle" font-weight="bold" fill="#000" textLength="10.20" lengthAdjust="spacingAndGlyphs">21</text>
<text x="389.17" y="1371.20" font-size="8.9" text-anchor="middle" font-weight="bold" fill="#000" textLength="10.20" lengthAdjust="spacingAndGlyphs">22</text>
<text x="403.24" y="1371.20" font-size="8.9" text-anchor="middle" font-weight="bold" fill="#000" textLength="10.20" lengthAdjust="spacingAndGlyphs">23</text>
<text x="417.31" y="1371.20" font-size="8.9" text-anchor="middle" font-weight="bold" fill="#000" textLength="10.20" lengthAdjust="spacingAndGlyphs">24</text>
<text x="431.38" y="1371.20" font-size="8.9" text-anchor="middle" font-weight="bold" fill="#000" textLength="10.20" lengthAdjust="spacingAndGlyphs">25</text>
<text x="445.45" y="1371.20" font-size="8.9" text-anchor="middle" font-weight="bold" fill="#000" textLength="10.20" lengthAdjust="spacingAndGlyphs">26</text>
<text x="459.52" y="1371.20" font-size="8.9" text-anchor="middle" font-weight="bold" fill="#000" textLength="10.20" lengthAdjust="spacingAndGlyphs">27</text>
<text x="473.59" y="1371.20" font-size="8.9" text-anchor="middle" font-weight="bold" fill="#000" textLength="10.20" lengthAdjust="spacingAndGlyphs">28</text>
<line x1="483.2" y1="1368.90" x2="486.5" y2="1368.90" stroke="#000" stroke-width="1.4"/>
<path d="M484.4,1366.20 L490.0,1368.90 L484.4,1371.60 L485.9,1368.90 Z" fill="#000"/>
<line x1="107.77" y1="1385" x2="483.5" y2="1385" stroke="#a0001e" stroke-width="2"/>
<path d="M107.77,1380.40 L112.27,1388.40 L103.27,1388.40 Z" fill="#a0001e" stroke="#7a0016" stroke-width="0.5"/>
<path d="M121.84,1380.40 L126.34,1388.40 L117.34,1388.40 Z" fill="#a0001e" stroke="#7a0016" stroke-width="0.5"/>
<path d="M149.98,1380.40 L154.48,1388.40 L145.48,1388.40 Z" fill="#a0001e" stroke="#7a0016" stroke-width="0.5"/>
<path d="M178.12,1380.40 L182.62,1388.40 L173.62,1388.40 Z" fill="#a0001e" stroke="#7a0016" stroke-width="0.5"/>
<path d="M483.50,1380.80 L487.80,1388.50 L479.20,1388.50 Z" fill="#2d4a8c" stroke="#13306c" stroke-width="0.5"/>
<text x="106.20" y="1402.70" font-size="7.1" text-anchor="middle" fill="#333">CRS</text>
<text x="106.20" y="1411.00" font-size="7.1" text-anchor="middle" fill="#333">Gr 4</text>
<text x="123.50" y="1402.70" font-size="7.1" text-anchor="middle" fill="#333">CRS</text>
<text x="123.50" y="1411.00" font-size="7.1" text-anchor="middle" fill="#333">Gr 2</text>
<text x="149.80" y="1402.70" font-size="7.1" text-anchor="middle" fill="#333">CRS</text>
<text x="149.80" y="1411.00" font-size="7.1" text-anchor="middle" fill="#333">Gr 4</text>
<text x="180.60" y="1402.50" font-size="7.1" fill="#333" textLength="63.00" lengthAdjust="spacingAndGlyphs">CRS Gr 3 (day 7-30)</text>
<text x="411.40" y="1403.00" font-size="7.1" fill="#333" textLength="71.80" lengthAdjust="spacingAndGlyphs">CRS Resolved (day 30)</text>
<line x1="108.50" y1="1425.80" x2="482.10" y2="1425.80" stroke="#3f0d4c" stroke-width="2.3"/>
<line x1="108.50" y1="1419.80" x2="108.50" y2="1431.80" stroke="#3f0d4c" stroke-width="2.2"/>
<line x1="482.10" y1="1419.80" x2="482.10" y2="1431.80" stroke="#3f0d4c" stroke-width="2.2"/>
<text x="251.50" y="1419.70" font-size="9.0" fill="#000" stroke="#000" stroke-width="0.12">High fevers (day 2-29)</text>
<line x1="102.80" y1="1443.40" x2="110.80" y2="1443.40" stroke="#3f0d4c" stroke-width="2.3"/>
<line x1="102.80" y1="1437.40" x2="102.80" y2="1449.40" stroke="#3f0d4c" stroke-width="2.2"/>
<line x1="110.80" y1="1437.40" x2="110.80" y2="1449.40" stroke="#3f0d4c" stroke-width="2.2"/>
<line x1="172.10" y1="1443.20" x2="180.20" y2="1443.20" stroke="#3f0d4c" stroke-width="2.3"/>
<line x1="172.10" y1="1437.20" x2="172.10" y2="1449.20" stroke="#3f0d4c" stroke-width="2.2"/>
<line x1="180.20" y1="1437.20" x2="180.20" y2="1449.20" stroke="#3f0d4c" stroke-width="2.2"/>
<text x="186.80" y="1446.00" font-size="9.0" fill="#000" textLength="223.60" lengthAdjust="spacingAndGlyphs" stroke="#000" stroke-width="0.12">Vasopressors (Norepinephrine day 2; Epinephrine day 7)</text>
<line x1="173.40" y1="1460.60" x2="321.60" y2="1460.60" stroke="#3f0d4c" stroke-width="2.3"/>
<line x1="173.40" y1="1454.60" x2="173.40" y2="1466.60" stroke="#3f0d4c" stroke-width="2.2"/>
<line x1="321.60" y1="1454.60" x2="321.60" y2="1466.60" stroke="#3f0d4c" stroke-width="2.2"/>
<text x="328.40" y="1463.00" font-size="9.0" fill="#000" stroke="#000" stroke-width="0.12">CVVH (day 7-17)</text>
<line x1="107.50" y1="1477.80" x2="122.00" y2="1477.80" stroke="#3f0d4c" stroke-width="2.3"/>
<line x1="107.50" y1="1471.80" x2="107.50" y2="1483.80" stroke="#3f0d4c" stroke-width="2.2"/>
<line x1="122.00" y1="1471.80" x2="122.00" y2="1483.80" stroke="#3f0d4c" stroke-width="2.2"/>
<line x1="150.40" y1="1477.80" x2="321.60" y2="1477.80" stroke="#3f0d4c" stroke-width="2.3"/>
<line x1="150.40" y1="1471.80" x2="150.40" y2="1483.80" stroke="#3f0d4c" stroke-width="2.2"/>
<line x1="321.60" y1="1471.80" x2="321.60" y2="1483.80" stroke="#3f0d4c" stroke-width="2.2"/>
<text x="328.40" y="1480.60" font-size="9.0" fill="#000" stroke="#000" stroke-width="0.12">ICU stay (days 2-3, 5-17)</text>
</svg>
</body></html>
